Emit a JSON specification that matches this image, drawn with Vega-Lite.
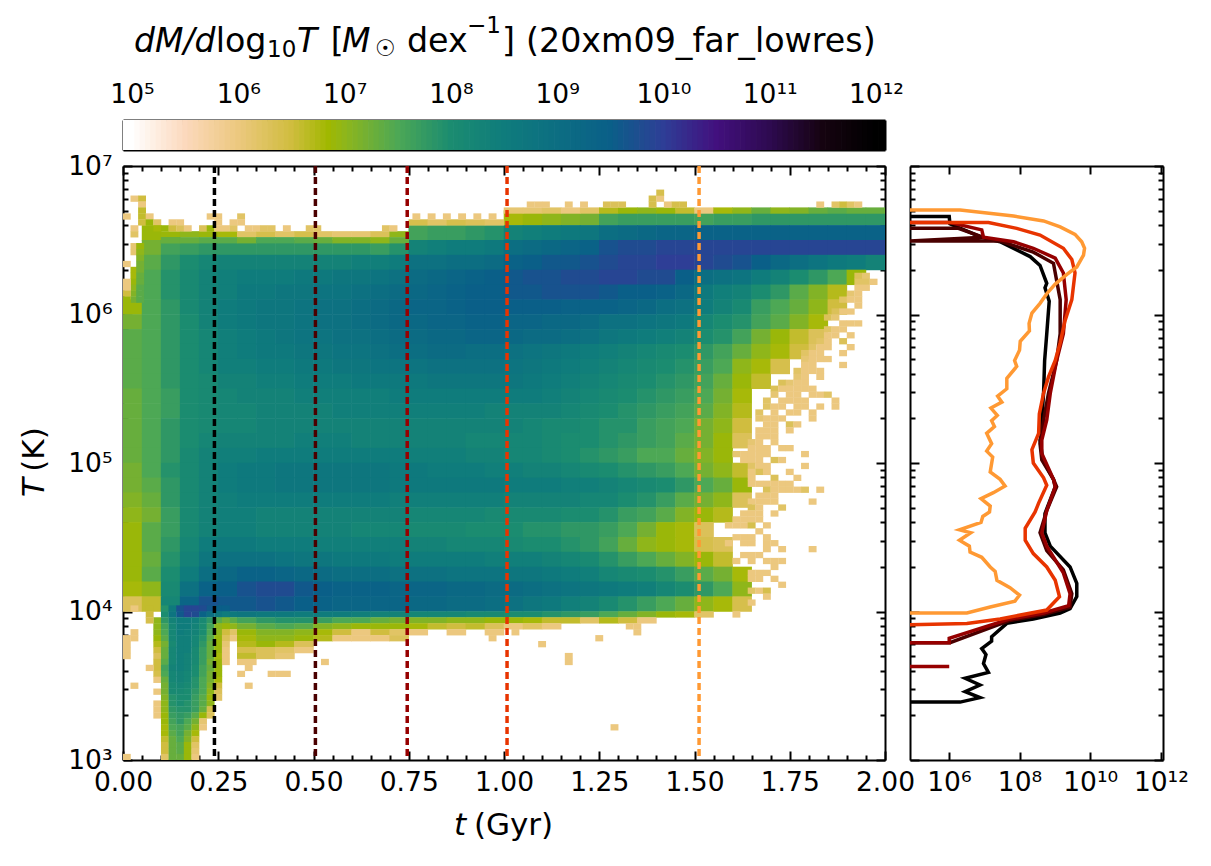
{
"$schema":"https://vega.github.io/schema/vega-lite/v6.json",
"background":"white",
"padding":{"left":19,"top":15,"right":0,"bottom":0},
"bounds":"flush",
"spacing":16,
"config":{"view":{"stroke":null},"font":"DejaVu Sans","axis":{"grid":false,"domainColor":"black","domainWidth":2,"tickColor":"black","tickWidth":2,"labelColor":"black","labelFontSize":26.5,"labelFont":"DejaVu Sans","labelFlush":false,"labelOverlap":false,"zindex":1,"title":null}},
"datasets":{
"frame":[{"t":0,"T":3,"M":5,"y":0}],
"bar":[{"M":4.9},{"M":4.95},{"M":5},{"M":5.05},{"M":5.1},{"M":5.15},{"M":5.2},{"M":5.25},{"M":5.3},{"M":5.35},{"M":5.4},{"M":5.45},{"M":5.5},{"M":5.55},{"M":5.6},{"M":5.65},{"M":5.7},{"M":5.75},{"M":5.8},{"M":5.85},{"M":5.9},{"M":5.95},{"M":6},{"M":6.05},{"M":6.1},{"M":6.15},{"M":6.2},{"M":6.25},{"M":6.3},{"M":6.35},{"M":6.4},{"M":6.45},{"M":6.5},{"M":6.55},{"M":6.6},{"M":6.65},{"M":6.7},{"M":6.75},{"M":6.8},{"M":6.85},{"M":6.9},{"M":6.95},{"M":7},{"M":7.05},{"M":7.1},{"M":7.15},{"M":7.2},{"M":7.25},{"M":7.3},{"M":7.35},{"M":7.4},{"M":7.45},{"M":7.5},{"M":7.55},{"M":7.6},{"M":7.65},{"M":7.7},{"M":7.75},{"M":7.8},{"M":7.85},{"M":7.9},{"M":7.95},{"M":8},{"M":8.05},{"M":8.1},{"M":8.15},{"M":8.2},{"M":8.25},{"M":8.3},{"M":8.35},{"M":8.4},{"M":8.45},{"M":8.5},{"M":8.55},{"M":8.6},{"M":8.65},{"M":8.7},{"M":8.75},{"M":8.8},{"M":8.85},{"M":8.9},{"M":8.95},{"M":9},{"M":9.05},{"M":9.1},{"M":9.15},{"M":9.2},{"M":9.25},{"M":9.3},{"M":9.35},{"M":9.4},{"M":9.45},{"M":9.5},{"M":9.55},{"M":9.6},{"M":9.65},{"M":9.7},{"M":9.75},{"M":9.8},{"M":9.85},{"M":9.9},{"M":9.95},{"M":10},{"M":10.05},{"M":10.1},{"M":10.15},{"M":10.2},{"M":10.25},{"M":10.3},{"M":10.35},{"M":10.4},{"M":10.45},{"M":10.5},{"M":10.55},{"M":10.6},{"M":10.65},{"M":10.7},{"M":10.75},{"M":10.8},{"M":10.85},{"M":10.9},{"M":10.95},{"M":11},{"M":11.05},{"M":11.1},{"M":11.15},{"M":11.2},{"M":11.25},{"M":11.3},{"M":11.35},{"M":11.4},{"M":11.45},{"M":11.5},{"M":11.55},{"M":11.6},{"M":11.65},{"M":11.7},{"M":11.75},{"M":11.8},{"M":11.85},{"M":11.9},{"M":11.95},{"M":12},{"M":12.05},{"M":12.1}],
"coarse":[
{"t":1.025,"T":6.65,"M":6.8},{"t":1.075,"T":6.65,"M":6.9},{"t":1.125,"T":6.65,"M":7},{"t":1.175,"T":6.65,"M":7.1},{"t":1.225,"T":6.65,"M":7.2},{"t":1.275,"T":6.65,"M":7.6},{"t":1.325,"T":6.65,"M":7.7},{"t":1.375,"T":6.65,"M":7.7},{"t":1.425,"T":6.65,"M":7.7},{"t":1.475,"T":6.65,"M":7.7},{"t":1.525,"T":6.65,"M":7.6},{"t":1.575,"T":6.65,"M":7.7},{"t":1.625,"T":6.65,"M":7.7},{"t":1.675,"T":6.65,"M":7.8},{"t":1.725,"T":6.65,"M":7.8},{"t":1.775,"T":6.65,"M":7.8},{"t":1.825,"T":6.65,"M":7.8},{"t":1.875,"T":6.65,"M":7.8},{"t":1.925,"T":6.65,"M":7.8},{"t":1.975,"T":6.65,"M":7.8},
{"t":0.075,"T":6.55,"M":6.9},{"t":0.775,"T":6.55,"M":7.6},{"t":0.825,"T":6.55,"M":7.7},{"t":0.875,"T":6.55,"M":7.7},{"t":0.925,"T":6.55,"M":7.8},{"t":0.975,"T":6.55,"M":7.9},{"t":1.025,"T":6.55,"M":8.3},{"t":1.075,"T":6.55,"M":8.4},{"t":1.125,"T":6.55,"M":8.5},{"t":1.175,"T":6.55,"M":8.6},{"t":1.225,"T":6.55,"M":8.7},{"t":1.275,"T":6.55,"M":9},{"t":1.325,"T":6.55,"M":9.1},{"t":1.375,"T":6.55,"M":9.2},{"t":1.425,"T":6.55,"M":9.3},{"t":1.475,"T":6.55,"M":9.3},{"t":1.525,"T":6.55,"M":9.4},{"t":1.575,"T":6.55,"M":9.4},{"t":1.625,"T":6.55,"M":9.4},{"t":1.675,"T":6.55,"M":9.4},{"t":1.725,"T":6.55,"M":9.4},{"t":1.775,"T":6.55,"M":9.4},{"t":1.825,"T":6.55,"M":9.4},{"t":1.875,"T":6.55,"M":9.4},{"t":1.925,"T":6.55,"M":9.4},{"t":1.975,"T":6.55,"M":9.4},
{"t":0.075,"T":6.45,"M":7.2},{"t":0.125,"T":6.45,"M":7.6},{"t":0.175,"T":6.45,"M":7.7},{"t":0.225,"T":6.45,"M":7.8},{"t":0.275,"T":6.45,"M":7.8},{"t":0.325,"T":6.45,"M":7.8},{"t":0.375,"T":6.45,"M":7.8},{"t":0.425,"T":6.45,"M":7.8},{"t":0.475,"T":6.45,"M":7.8},{"t":0.525,"T":6.45,"M":7.8},{"t":0.575,"T":6.45,"M":7.8},{"t":0.625,"T":6.45,"M":7.8},{"t":0.675,"T":6.45,"M":7.7},{"t":0.725,"T":6.45,"M":7.9},{"t":0.775,"T":6.45,"M":8.3},{"t":0.825,"T":6.45,"M":8.4},{"t":0.875,"T":6.45,"M":8.5},{"t":0.925,"T":6.45,"M":8.5},{"t":0.975,"T":6.45,"M":8.6},{"t":1.025,"T":6.45,"M":9},{"t":1.075,"T":6.45,"M":9.1},{"t":1.125,"T":6.45,"M":9.2},{"t":1.175,"T":6.45,"M":9.3},{"t":1.225,"T":6.45,"M":9.4},{"t":1.275,"T":6.45,"M":9.7},{"t":1.325,"T":6.45,"M":9.8},{"t":1.375,"T":6.45,"M":9.8},{"t":1.425,"T":6.45,"M":9.9},{"t":1.475,"T":6.45,"M":9.9},{"t":1.525,"T":6.45,"M":9.9},{"t":1.575,"T":6.45,"M":9.9},{"t":1.625,"T":6.45,"M":9.9},{"t":1.675,"T":6.45,"M":9.9},{"t":1.725,"T":6.45,"M":9.9},{"t":1.775,"T":6.45,"M":9.9},{"t":1.825,"T":6.45,"M":9.9},{"t":1.875,"T":6.45,"M":9.9},{"t":1.925,"T":6.45,"M":9.9},{"t":1.975,"T":6.45,"M":9.9},
{"t":0.075,"T":6.35,"M":7.4},{"t":0.125,"T":6.35,"M":7.8},{"t":0.175,"T":6.35,"M":8},{"t":0.225,"T":6.35,"M":8.2},{"t":0.275,"T":6.35,"M":8.3},{"t":0.325,"T":6.35,"M":8.3},{"t":0.375,"T":6.35,"M":8.3},{"t":0.425,"T":6.35,"M":8.3},{"t":0.475,"T":6.35,"M":8.3},{"t":0.525,"T":6.35,"M":8.3},{"t":0.575,"T":6.35,"M":8.3},{"t":0.625,"T":6.35,"M":8.4},{"t":0.675,"T":6.35,"M":8.4},{"t":0.725,"T":6.35,"M":8.5},{"t":0.775,"T":6.35,"M":8.9},{"t":0.825,"T":6.35,"M":8.9},{"t":0.875,"T":6.35,"M":9},{"t":0.925,"T":6.35,"M":9},{"t":0.975,"T":6.35,"M":9.1},{"t":1.025,"T":6.35,"M":9.4},{"t":1.075,"T":6.35,"M":9.5},{"t":1.125,"T":6.35,"M":9.6},{"t":1.175,"T":6.35,"M":9.6},{"t":1.225,"T":6.35,"M":9.7},{"t":1.275,"T":6.35,"M":9.8},{"t":1.325,"T":6.35,"M":9.9},{"t":1.375,"T":6.35,"M":9.9},{"t":1.425,"T":6.35,"M":10},{"t":1.475,"T":6.35,"M":10},{"t":1.525,"T":6.35,"M":9.9},{"t":1.575,"T":6.35,"M":9.8},{"t":1.625,"T":6.35,"M":9.7},{"t":1.675,"T":6.35,"M":9.5},{"t":1.725,"T":6.35,"M":9.2},{"t":1.775,"T":6.35,"M":9},{"t":1.825,"T":6.35,"M":8.8},{"t":1.875,"T":6.35,"M":8.6},{"t":1.925,"T":6.35,"M":8.5},{"t":1.975,"T":6.35,"M":8.3},
{"t":0.075,"T":6.25,"M":7.5},{"t":0.125,"T":6.25,"M":7.9},{"t":0.175,"T":6.25,"M":8.1},{"t":0.225,"T":6.25,"M":8.3},{"t":0.275,"T":6.25,"M":8.4},{"t":0.325,"T":6.25,"M":8.5},{"t":0.375,"T":6.25,"M":8.5},{"t":0.425,"T":6.25,"M":8.5},{"t":0.475,"T":6.25,"M":8.6},{"t":0.525,"T":6.25,"M":8.6},{"t":0.575,"T":6.25,"M":8.7},{"t":0.625,"T":6.25,"M":8.7},{"t":0.675,"T":6.25,"M":8.8},{"t":0.725,"T":6.25,"M":8.9},{"t":0.775,"T":6.25,"M":9.1},{"t":0.825,"T":6.25,"M":9.2},{"t":0.875,"T":6.25,"M":9.3},{"t":0.925,"T":6.25,"M":9.4},{"t":0.975,"T":6.25,"M":9.5},{"t":1.025,"T":6.25,"M":9.6},{"t":1.075,"T":6.25,"M":9.7},{"t":1.125,"T":6.25,"M":9.7},{"t":1.175,"T":6.25,"M":9.8},{"t":1.225,"T":6.25,"M":9.8},{"t":1.275,"T":6.25,"M":9.9},{"t":1.325,"T":6.25,"M":9.9},{"t":1.375,"T":6.25,"M":9.8},{"t":1.425,"T":6.25,"M":9.8},{"t":1.475,"T":6.25,"M":9.5},{"t":1.525,"T":6.25,"M":9},{"t":1.575,"T":6.25,"M":8.9},{"t":1.625,"T":6.25,"M":8.8},{"t":1.675,"T":6.25,"M":8.5},{"t":1.725,"T":6.25,"M":8.3},{"t":1.775,"T":6.25,"M":8},{"t":1.825,"T":6.25,"M":7.8},{"t":1.875,"T":6.25,"M":7.5},{"t":1.925,"T":6.25,"M":6.9},
{"t":0.075,"T":6.15,"M":7.5},{"t":0.125,"T":6.15,"M":7.9},{"t":0.175,"T":6.15,"M":8.1},{"t":0.225,"T":6.15,"M":8.3},{"t":0.275,"T":6.15,"M":8.4},{"t":0.325,"T":6.15,"M":8.6},{"t":0.375,"T":6.15,"M":8.6},{"t":0.425,"T":6.15,"M":8.7},{"t":0.475,"T":6.15,"M":8.7},{"t":0.525,"T":6.15,"M":8.8},{"t":0.575,"T":6.15,"M":8.8},{"t":0.625,"T":6.15,"M":8.9},{"t":0.675,"T":6.15,"M":9},{"t":0.725,"T":6.15,"M":9.1},{"t":0.775,"T":6.15,"M":9.2},{"t":0.825,"T":6.15,"M":9.3},{"t":0.875,"T":6.15,"M":9.4},{"t":0.925,"T":6.15,"M":9.5},{"t":0.975,"T":6.15,"M":9.5},{"t":1.025,"T":6.15,"M":9.6},{"t":1.075,"T":6.15,"M":9.6},{"t":1.125,"T":6.15,"M":9.7},{"t":1.175,"T":6.15,"M":9.7},{"t":1.225,"T":6.15,"M":9.7},{"t":1.275,"T":6.15,"M":9.6},{"t":1.325,"T":6.15,"M":9.5},{"t":1.375,"T":6.15,"M":9.5},{"t":1.425,"T":6.15,"M":9.4},{"t":1.475,"T":6.15,"M":9.2},{"t":1.525,"T":6.15,"M":8.6},{"t":1.575,"T":6.15,"M":8.4},{"t":1.625,"T":6.15,"M":8.3},{"t":1.675,"T":6.15,"M":8},{"t":1.725,"T":6.15,"M":7.8},{"t":1.775,"T":6.15,"M":7.4},{"t":1.825,"T":6.15,"M":7.1},{"t":1.875,"T":6.15,"M":6.7},
{"t":0.025,"T":6.05,"M":6.9},{"t":0.075,"T":6.05,"M":7.5},{"t":0.125,"T":6.05,"M":7.8},{"t":0.175,"T":6.05,"M":8.1},{"t":0.225,"T":6.05,"M":8.3},{"t":0.275,"T":6.05,"M":8.5},{"t":0.325,"T":6.05,"M":8.6},{"t":0.375,"T":6.05,"M":8.7},{"t":0.425,"T":6.05,"M":8.7},{"t":0.475,"T":6.05,"M":8.8},{"t":0.525,"T":6.05,"M":8.9},{"t":0.575,"T":6.05,"M":8.9},{"t":0.625,"T":6.05,"M":9},{"t":0.675,"T":6.05,"M":9.1},{"t":0.725,"T":6.05,"M":9.2},{"t":0.775,"T":6.05,"M":9.3},{"t":0.825,"T":6.05,"M":9.3},{"t":0.875,"T":6.05,"M":9.4},{"t":0.925,"T":6.05,"M":9.5},{"t":0.975,"T":6.05,"M":9.5},{"t":1.025,"T":6.05,"M":9.5},{"t":1.075,"T":6.05,"M":9.5},{"t":1.125,"T":6.05,"M":9.5},{"t":1.175,"T":6.05,"M":9.4},{"t":1.225,"T":6.05,"M":9.4},{"t":1.275,"T":6.05,"M":9.4},{"t":1.325,"T":6.05,"M":9.3},{"t":1.375,"T":6.05,"M":9.2},{"t":1.425,"T":6.05,"M":9},{"t":1.475,"T":6.05,"M":8.9},{"t":1.525,"T":6.05,"M":8.5},{"t":1.575,"T":6.05,"M":8.3},{"t":1.625,"T":6.05,"M":8.1},{"t":1.675,"T":6.05,"M":7.7},{"t":1.725,"T":6.05,"M":7.5},{"t":1.775,"T":6.05,"M":7.3},{"t":1.825,"T":6.05,"M":7},{"t":1.875,"T":6.05,"M":6.5},
{"t":0.025,"T":5.95,"M":7.2},{"t":0.075,"T":5.95,"M":7.5},{"t":0.125,"T":5.95,"M":7.8},{"t":0.175,"T":5.95,"M":8},{"t":0.225,"T":5.95,"M":8.3},{"t":0.275,"T":5.95,"M":8.5},{"t":0.325,"T":5.95,"M":8.6},{"t":0.375,"T":5.95,"M":8.7},{"t":0.425,"T":5.95,"M":8.7},{"t":0.475,"T":5.95,"M":8.8},{"t":0.525,"T":5.95,"M":8.9},{"t":0.575,"T":5.95,"M":8.9},{"t":0.625,"T":5.95,"M":9},{"t":0.675,"T":5.95,"M":9.1},{"t":0.725,"T":5.95,"M":9.2},{"t":0.775,"T":5.95,"M":9.2},{"t":0.825,"T":5.95,"M":9.3},{"t":0.875,"T":5.95,"M":9.3},{"t":0.925,"T":5.95,"M":9.4},{"t":0.975,"T":5.95,"M":9.4},{"t":1.025,"T":5.95,"M":9.3},{"t":1.075,"T":5.95,"M":9.3},{"t":1.125,"T":5.95,"M":9.2},{"t":1.175,"T":5.95,"M":9.2},{"t":1.225,"T":5.95,"M":9.1},{"t":1.275,"T":5.95,"M":8.9},{"t":1.325,"T":5.95,"M":8.9},{"t":1.375,"T":5.95,"M":8.8},{"t":1.425,"T":5.95,"M":8.7},{"t":1.475,"T":5.95,"M":8.6},{"t":1.525,"T":5.95,"M":8.2},{"t":1.575,"T":5.95,"M":8},{"t":1.625,"T":5.95,"M":7.9},{"t":1.675,"T":5.95,"M":7.6},{"t":1.725,"T":5.95,"M":7.4},{"t":1.775,"T":5.95,"M":7.1},{"t":1.825,"T":5.95,"M":6.8},
{"t":0.025,"T":5.85,"M":7.4},{"t":0.075,"T":5.85,"M":7.5},{"t":0.125,"T":5.85,"M":7.8},{"t":0.175,"T":5.85,"M":8},{"t":0.225,"T":5.85,"M":8.2},{"t":0.275,"T":5.85,"M":8.4},{"t":0.325,"T":5.85,"M":8.5},{"t":0.375,"T":5.85,"M":8.6},{"t":0.425,"T":5.85,"M":8.7},{"t":0.475,"T":5.85,"M":8.8},{"t":0.525,"T":5.85,"M":8.8},{"t":0.575,"T":5.85,"M":8.9},{"t":0.625,"T":5.85,"M":8.9},{"t":0.675,"T":5.85,"M":9},{"t":0.725,"T":5.85,"M":9.1},{"t":0.775,"T":5.85,"M":9.1},{"t":0.825,"T":5.85,"M":9.2},{"t":0.875,"T":5.85,"M":9.2},{"t":0.925,"T":5.85,"M":9.3},{"t":0.975,"T":5.85,"M":9.3},{"t":1.025,"T":5.85,"M":9.2},{"t":1.075,"T":5.85,"M":9.1},{"t":1.125,"T":5.85,"M":9.1},{"t":1.175,"T":5.85,"M":9},{"t":1.225,"T":5.85,"M":8.9},{"t":1.275,"T":5.85,"M":8.7},{"t":1.325,"T":5.85,"M":8.6},{"t":1.375,"T":5.85,"M":8.5},{"t":1.425,"T":5.85,"M":8.4},{"t":1.475,"T":5.85,"M":8.3},{"t":1.525,"T":5.85,"M":8},{"t":1.575,"T":5.85,"M":7.9},{"t":1.625,"T":5.85,"M":7.6},{"t":1.675,"T":5.85,"M":7.2},{"t":1.725,"T":5.85,"M":6.9},{"t":1.775,"T":5.85,"M":6.6},{"t":1.825,"T":5.85,"M":6.3},
{"t":0.025,"T":5.75,"M":7.4},{"t":0.075,"T":5.75,"M":7.5},{"t":0.125,"T":5.75,"M":7.8},{"t":0.175,"T":5.75,"M":8},{"t":0.225,"T":5.75,"M":8.2},{"t":0.275,"T":5.75,"M":8.4},{"t":0.325,"T":5.75,"M":8.5},{"t":0.375,"T":5.75,"M":8.6},{"t":0.425,"T":5.75,"M":8.6},{"t":0.475,"T":5.75,"M":8.7},{"t":0.525,"T":5.75,"M":8.7},{"t":0.575,"T":5.75,"M":8.8},{"t":0.625,"T":5.75,"M":8.8},{"t":0.675,"T":5.75,"M":8.9},{"t":0.725,"T":5.75,"M":9},{"t":0.775,"T":5.75,"M":9},{"t":0.825,"T":5.75,"M":9.1},{"t":0.875,"T":5.75,"M":9.1},{"t":0.925,"T":5.75,"M":9},{"t":0.975,"T":5.75,"M":9},{"t":1.025,"T":5.75,"M":8.9},{"t":1.075,"T":5.75,"M":8.8},{"t":1.125,"T":5.75,"M":8.7},{"t":1.175,"T":5.75,"M":8.6},{"t":1.225,"T":5.75,"M":8.5},{"t":1.275,"T":5.75,"M":8.4},{"t":1.325,"T":5.75,"M":8.3},{"t":1.375,"T":5.75,"M":8.2},{"t":1.425,"T":5.75,"M":8.1},{"t":1.475,"T":5.75,"M":8},{"t":1.525,"T":5.75,"M":7.8},{"t":1.575,"T":5.75,"M":7.6},{"t":1.625,"T":5.75,"M":7.3},{"t":1.675,"T":5.75,"M":7},{"t":1.725,"T":5.75,"M":6.8},{"t":1.775,"T":5.75,"M":6.5},
{"t":0.025,"T":5.65,"M":7.4},{"t":0.075,"T":5.65,"M":7.5},{"t":0.125,"T":5.65,"M":7.8},{"t":0.175,"T":5.65,"M":8},{"t":0.225,"T":5.65,"M":8.2},{"t":0.275,"T":5.65,"M":8.4},{"t":0.325,"T":5.65,"M":8.4},{"t":0.375,"T":5.65,"M":8.5},{"t":0.425,"T":5.65,"M":8.5},{"t":0.475,"T":5.65,"M":8.6},{"t":0.525,"T":5.65,"M":8.6},{"t":0.575,"T":5.65,"M":8.7},{"t":0.625,"T":5.65,"M":8.7},{"t":0.675,"T":5.65,"M":8.8},{"t":0.725,"T":5.65,"M":8.8},{"t":0.775,"T":5.65,"M":8.8},{"t":0.825,"T":5.65,"M":8.9},{"t":0.875,"T":5.65,"M":8.9},{"t":0.925,"T":5.65,"M":8.9},{"t":0.975,"T":5.65,"M":8.9},{"t":1.025,"T":5.65,"M":8.8},{"t":1.075,"T":5.65,"M":8.7},{"t":1.125,"T":5.65,"M":8.6},{"t":1.175,"T":5.65,"M":8.5},{"t":1.225,"T":5.65,"M":8.4},{"t":1.275,"T":5.65,"M":8.3},{"t":1.325,"T":5.65,"M":8.2},{"t":1.375,"T":5.65,"M":8.1},{"t":1.425,"T":5.65,"M":8},{"t":1.475,"T":5.65,"M":7.9},{"t":1.525,"T":5.65,"M":7.7},{"t":1.575,"T":5.65,"M":7.5},{"t":1.625,"T":5.65,"M":7},{"t":1.675,"T":5.65,"M":6.8},{"t":1.725,"T":5.65,"M":6.4},
{"t":0.025,"T":5.55,"M":7.4},{"t":0.075,"T":5.55,"M":7.5},{"t":0.125,"T":5.55,"M":7.8},{"t":0.175,"T":5.55,"M":8},{"t":0.225,"T":5.55,"M":8.1},{"t":0.275,"T":5.55,"M":8.3},{"t":0.325,"T":5.55,"M":8.3},{"t":0.375,"T":5.55,"M":8.4},{"t":0.425,"T":5.55,"M":8.4},{"t":0.475,"T":5.55,"M":8.5},{"t":0.525,"T":5.55,"M":8.5},{"t":0.575,"T":5.55,"M":8.5},{"t":0.625,"T":5.55,"M":8.6},{"t":0.675,"T":5.55,"M":8.6},{"t":0.725,"T":5.55,"M":8.6},{"t":0.775,"T":5.55,"M":8.6},{"t":0.825,"T":5.55,"M":8.7},{"t":0.875,"T":5.55,"M":8.7},{"t":0.925,"T":5.55,"M":8.7},{"t":0.975,"T":5.55,"M":8.7},{"t":1.025,"T":5.55,"M":8.7},{"t":1.075,"T":5.55,"M":8.6},{"t":1.125,"T":5.55,"M":8.5},{"t":1.175,"T":5.55,"M":8.4},{"t":1.225,"T":5.55,"M":8.3},{"t":1.275,"T":5.55,"M":8.2},{"t":1.325,"T":5.55,"M":8.1},{"t":1.375,"T":5.55,"M":8},{"t":1.425,"T":5.55,"M":7.9},{"t":1.475,"T":5.55,"M":7.8},{"t":1.525,"T":5.55,"M":7.6},{"t":1.575,"T":5.55,"M":7.3},{"t":1.625,"T":5.55,"M":6.9},{"t":1.675,"T":5.55,"M":6.6},
{"t":0.025,"T":5.45,"M":7.3},{"t":0.075,"T":5.45,"M":7.5},{"t":0.125,"T":5.45,"M":7.7},{"t":0.175,"T":5.45,"M":8},{"t":0.225,"T":5.45,"M":8.1},{"t":0.275,"T":5.45,"M":8.2},{"t":0.325,"T":5.45,"M":8.3},{"t":0.375,"T":5.45,"M":8.3},{"t":0.425,"T":5.45,"M":8.3},{"t":0.475,"T":5.45,"M":8.4},{"t":0.525,"T":5.45,"M":8.4},{"t":0.575,"T":5.45,"M":8.4},{"t":0.625,"T":5.45,"M":8.4},{"t":0.675,"T":5.45,"M":8.4},{"t":0.725,"T":5.45,"M":8.5},{"t":0.775,"T":5.45,"M":8.5},{"t":0.825,"T":5.45,"M":8.5},{"t":0.875,"T":5.45,"M":8.5},{"t":0.925,"T":5.45,"M":8.5},{"t":0.975,"T":5.45,"M":8.5},{"t":1.025,"T":5.45,"M":8.5},{"t":1.075,"T":5.45,"M":8.5},{"t":1.125,"T":5.45,"M":8.4},{"t":1.175,"T":5.45,"M":8.3},{"t":1.225,"T":5.45,"M":8.2},{"t":1.275,"T":5.45,"M":8.1},{"t":1.325,"T":5.45,"M":8},{"t":1.375,"T":5.45,"M":7.9},{"t":1.425,"T":5.45,"M":7.8},{"t":1.475,"T":5.45,"M":7.7},{"t":1.525,"T":5.45,"M":7.5},{"t":1.575,"T":5.45,"M":7.2},{"t":1.625,"T":5.45,"M":6.8},
{"t":0.025,"T":5.35,"M":7.3},{"t":0.075,"T":5.35,"M":7.5},{"t":0.125,"T":5.35,"M":7.7},{"t":0.175,"T":5.35,"M":8},{"t":0.225,"T":5.35,"M":8.1},{"t":0.275,"T":5.35,"M":8.2},{"t":0.325,"T":5.35,"M":8.2},{"t":0.375,"T":5.35,"M":8.3},{"t":0.425,"T":5.35,"M":8.3},{"t":0.475,"T":5.35,"M":8.3},{"t":0.525,"T":5.35,"M":8.3},{"t":0.575,"T":5.35,"M":8.4},{"t":0.625,"T":5.35,"M":8.4},{"t":0.675,"T":5.35,"M":8.4},{"t":0.725,"T":5.35,"M":8.4},{"t":0.775,"T":5.35,"M":8.4},{"t":0.825,"T":5.35,"M":8.4},{"t":0.875,"T":5.35,"M":8.4},{"t":0.925,"T":5.35,"M":8.4},{"t":0.975,"T":5.35,"M":8.3},{"t":1.025,"T":5.35,"M":8.3},{"t":1.075,"T":5.35,"M":8.3},{"t":1.125,"T":5.35,"M":8.3},{"t":1.175,"T":5.35,"M":8.2},{"t":1.225,"T":5.35,"M":8.1},{"t":1.275,"T":5.35,"M":8},{"t":1.325,"T":5.35,"M":7.9},{"t":1.375,"T":5.35,"M":7.8},{"t":1.425,"T":5.35,"M":7.7},{"t":1.475,"T":5.35,"M":7.6},{"t":1.525,"T":5.35,"M":7.4},{"t":1.575,"T":5.35,"M":7.1},{"t":1.625,"T":5.35,"M":6.7},
{"t":0.025,"T":5.25,"M":7.3},{"t":0.075,"T":5.25,"M":7.5},{"t":0.125,"T":5.25,"M":7.8},{"t":0.175,"T":5.25,"M":8},{"t":0.225,"T":5.25,"M":8.1},{"t":0.275,"T":5.25,"M":8.2},{"t":0.325,"T":5.25,"M":8.2},{"t":0.375,"T":5.25,"M":8.3},{"t":0.425,"T":5.25,"M":8.3},{"t":0.475,"T":5.25,"M":8.3},{"t":0.525,"T":5.25,"M":8.3},{"t":0.575,"T":5.25,"M":8.3},{"t":0.625,"T":5.25,"M":8.3},{"t":0.675,"T":5.25,"M":8.3},{"t":0.725,"T":5.25,"M":8.3},{"t":0.775,"T":5.25,"M":8.3},{"t":0.825,"T":5.25,"M":8.3},{"t":0.875,"T":5.25,"M":8.3},{"t":0.925,"T":5.25,"M":8.3},{"t":0.975,"T":5.25,"M":8.3},{"t":1.025,"T":5.25,"M":8.3},{"t":1.075,"T":5.25,"M":8.2},{"t":1.125,"T":5.25,"M":8.1},{"t":1.175,"T":5.25,"M":8.1},{"t":1.225,"T":5.25,"M":8},{"t":1.275,"T":5.25,"M":7.9},{"t":1.325,"T":5.25,"M":7.9},{"t":1.375,"T":5.25,"M":7.7},{"t":1.425,"T":5.25,"M":7.6},{"t":1.475,"T":5.25,"M":7.5},{"t":1.525,"T":5.25,"M":7.2},{"t":1.575,"T":5.25,"M":7},{"t":1.625,"T":5.25,"M":6.5},
{"t":0.025,"T":5.15,"M":7.3},{"t":0.075,"T":5.15,"M":7.5},{"t":0.125,"T":5.15,"M":7.8},{"t":0.175,"T":5.15,"M":8},{"t":0.225,"T":5.15,"M":8.2},{"t":0.275,"T":5.15,"M":8.3},{"t":0.325,"T":5.15,"M":8.3},{"t":0.375,"T":5.15,"M":8.3},{"t":0.425,"T":5.15,"M":8.3},{"t":0.475,"T":5.15,"M":8.4},{"t":0.525,"T":5.15,"M":8.4},{"t":0.575,"T":5.15,"M":8.4},{"t":0.625,"T":5.15,"M":8.3},{"t":0.675,"T":5.15,"M":8.3},{"t":0.725,"T":5.15,"M":8.3},{"t":0.775,"T":5.15,"M":8.3},{"t":0.825,"T":5.15,"M":8.3},{"t":0.875,"T":5.15,"M":8.3},{"t":0.925,"T":5.15,"M":8.2},{"t":0.975,"T":5.15,"M":8.2},{"t":1.025,"T":5.15,"M":8.2},{"t":1.075,"T":5.15,"M":8.2},{"t":1.125,"T":5.15,"M":8.1},{"t":1.175,"T":5.15,"M":8},{"t":1.225,"T":5.15,"M":8},{"t":1.275,"T":5.15,"M":7.9},{"t":1.325,"T":5.15,"M":7.8},{"t":1.375,"T":5.15,"M":7.7},{"t":1.425,"T":5.15,"M":7.6},{"t":1.475,"T":5.15,"M":7.4},{"t":1.525,"T":5.15,"M":7.2},{"t":1.575,"T":5.15,"M":6.9},{"t":1.625,"T":5.15,"M":6.3},
{"t":0.025,"T":5.05,"M":7.3},{"t":0.075,"T":5.05,"M":7.5},{"t":0.125,"T":5.05,"M":7.8},{"t":0.175,"T":5.05,"M":8.1},{"t":0.225,"T":5.05,"M":8.3},{"t":0.275,"T":5.05,"M":8.4},{"t":0.325,"T":5.05,"M":8.4},{"t":0.375,"T":5.05,"M":8.5},{"t":0.425,"T":5.05,"M":8.5},{"t":0.475,"T":5.05,"M":8.5},{"t":0.525,"T":5.05,"M":8.5},{"t":0.575,"T":5.05,"M":8.5},{"t":0.625,"T":5.05,"M":8.5},{"t":0.675,"T":5.05,"M":8.5},{"t":0.725,"T":5.05,"M":8.5},{"t":0.775,"T":5.05,"M":8.4},{"t":0.825,"T":5.05,"M":8.4},{"t":0.875,"T":5.05,"M":8.4},{"t":0.925,"T":5.05,"M":8.3},{"t":0.975,"T":5.05,"M":8.3},{"t":1.025,"T":5.05,"M":8.2},{"t":1.075,"T":5.05,"M":8.2},{"t":1.125,"T":5.05,"M":8.1},{"t":1.175,"T":5.05,"M":8},{"t":1.225,"T":5.05,"M":7.9},{"t":1.275,"T":5.05,"M":7.8},{"t":1.325,"T":5.05,"M":7.7},{"t":1.375,"T":5.05,"M":7.5},{"t":1.425,"T":5.05,"M":7.5},{"t":1.475,"T":5.05,"M":7.3},{"t":1.525,"T":5.05,"M":7.1},{"t":1.575,"T":5.05,"M":6.9},
{"t":0.025,"T":4.95,"M":7.2},{"t":0.075,"T":4.95,"M":7.5},{"t":0.125,"T":4.95,"M":7.9},{"t":0.175,"T":4.95,"M":8.1},{"t":0.225,"T":4.95,"M":8.3},{"t":0.275,"T":4.95,"M":8.5},{"t":0.325,"T":4.95,"M":8.6},{"t":0.375,"T":4.95,"M":8.6},{"t":0.425,"T":4.95,"M":8.7},{"t":0.475,"T":4.95,"M":8.7},{"t":0.525,"T":4.95,"M":8.7},{"t":0.575,"T":4.95,"M":8.7},{"t":0.625,"T":4.95,"M":8.7},{"t":0.675,"T":4.95,"M":8.7},{"t":0.725,"T":4.95,"M":8.6},{"t":0.775,"T":4.95,"M":8.6},{"t":0.825,"T":4.95,"M":8.5},{"t":0.875,"T":4.95,"M":8.5},{"t":0.925,"T":4.95,"M":8.5},{"t":0.975,"T":4.95,"M":8.4},{"t":1.025,"T":4.95,"M":8.4},{"t":1.075,"T":4.95,"M":8.3},{"t":1.125,"T":4.95,"M":8.3},{"t":1.175,"T":4.95,"M":8.2},{"t":1.225,"T":4.95,"M":8.1},{"t":1.275,"T":4.95,"M":8},{"t":1.325,"T":4.95,"M":7.9},{"t":1.375,"T":4.95,"M":7.8},{"t":1.425,"T":4.95,"M":7.7},{"t":1.475,"T":4.95,"M":7.5},{"t":1.525,"T":4.95,"M":7.2},{"t":1.575,"T":4.95,"M":7},{"t":1.625,"T":4.95,"M":6.6},
{"t":0.025,"T":4.85,"M":7.2},{"t":0.075,"T":4.85,"M":7.4},{"t":0.125,"T":4.85,"M":7.8},{"t":0.175,"T":4.85,"M":8.1},{"t":0.225,"T":4.85,"M":8.3},{"t":0.275,"T":4.85,"M":8.5},{"t":0.325,"T":4.85,"M":8.6},{"t":0.375,"T":4.85,"M":8.6},{"t":0.425,"T":4.85,"M":8.7},{"t":0.475,"T":4.85,"M":8.7},{"t":0.525,"T":4.85,"M":8.7},{"t":0.575,"T":4.85,"M":8.7},{"t":0.625,"T":4.85,"M":8.7},{"t":0.675,"T":4.85,"M":8.7},{"t":0.725,"T":4.85,"M":8.6},{"t":0.775,"T":4.85,"M":8.6},{"t":0.825,"T":4.85,"M":8.6},{"t":0.875,"T":4.85,"M":8.6},{"t":0.925,"T":4.85,"M":8.6},{"t":0.975,"T":4.85,"M":8.6},{"t":1.025,"T":4.85,"M":8.5},{"t":1.075,"T":4.85,"M":8.5},{"t":1.125,"T":4.85,"M":8.5},{"t":1.175,"T":4.85,"M":8.4},{"t":1.225,"T":4.85,"M":8.4},{"t":1.275,"T":4.85,"M":8.3},{"t":1.325,"T":4.85,"M":8.2},{"t":1.375,"T":4.85,"M":8.1},{"t":1.425,"T":4.85,"M":8},{"t":1.475,"T":4.85,"M":7.8},{"t":1.525,"T":4.85,"M":7.5},{"t":1.575,"T":4.85,"M":7.3},{"t":1.625,"T":4.85,"M":6.9},
{"t":0.025,"T":4.75,"M":7.1},{"t":0.075,"T":4.75,"M":7.3},{"t":0.125,"T":4.75,"M":7.8},{"t":0.175,"T":4.75,"M":8.1},{"t":0.225,"T":4.75,"M":8.3},{"t":0.275,"T":4.75,"M":8.4},{"t":0.325,"T":4.75,"M":8.5},{"t":0.375,"T":4.75,"M":8.5},{"t":0.425,"T":4.75,"M":8.5},{"t":0.475,"T":4.75,"M":8.5},{"t":0.525,"T":4.75,"M":8.5},{"t":0.575,"T":4.75,"M":8.5},{"t":0.625,"T":4.75,"M":8.5},{"t":0.675,"T":4.75,"M":8.5},{"t":0.725,"T":4.75,"M":8.4},{"t":0.775,"T":4.75,"M":8.4},{"t":0.825,"T":4.75,"M":8.4},{"t":0.875,"T":4.75,"M":8.4},{"t":0.925,"T":4.75,"M":8.4},{"t":0.975,"T":4.75,"M":8.4},{"t":1.025,"T":4.75,"M":8.3},{"t":1.075,"T":4.75,"M":8.3},{"t":1.125,"T":4.75,"M":8.3},{"t":1.175,"T":4.75,"M":8.3},{"t":1.225,"T":4.75,"M":8.2},{"t":1.275,"T":4.75,"M":8.2},{"t":1.325,"T":4.75,"M":8},{"t":1.375,"T":4.75,"M":7.9},{"t":1.425,"T":4.75,"M":7.7},{"t":1.475,"T":4.75,"M":7.4},{"t":1.525,"T":4.75,"M":7.2},{"t":1.575,"T":4.75,"M":7},{"t":1.625,"T":4.75,"M":6.3},
{"t":0.025,"T":4.65,"M":7},{"t":0.075,"T":4.65,"M":7.2},{"t":0.125,"T":4.65,"M":7.7},{"t":0.175,"T":4.65,"M":8.1},{"t":0.225,"T":4.65,"M":8.3},{"t":0.275,"T":4.65,"M":8.4},{"t":0.325,"T":4.65,"M":8.4},{"t":0.375,"T":4.65,"M":8.3},{"t":0.425,"T":4.65,"M":8.3},{"t":0.475,"T":4.65,"M":8.3},{"t":0.525,"T":4.65,"M":8.3},{"t":0.575,"T":4.65,"M":8.3},{"t":0.625,"T":4.65,"M":8.3},{"t":0.675,"T":4.65,"M":8.3},{"t":0.725,"T":4.65,"M":8.3},{"t":0.775,"T":4.65,"M":8.2},{"t":0.825,"T":4.65,"M":8.2},{"t":0.875,"T":4.65,"M":8.2},{"t":0.925,"T":4.65,"M":8.2},{"t":0.975,"T":4.65,"M":8.1},{"t":1.025,"T":4.65,"M":8.1},{"t":1.075,"T":4.65,"M":8.1},{"t":1.125,"T":4.65,"M":8.1},{"t":1.175,"T":4.65,"M":8},{"t":1.225,"T":4.65,"M":8},{"t":1.275,"T":4.65,"M":7.9},{"t":1.325,"T":4.65,"M":7.7},{"t":1.375,"T":4.65,"M":7.6},{"t":1.425,"T":4.65,"M":7.4},{"t":1.475,"T":4.65,"M":7.1},{"t":1.525,"T":4.65,"M":6.9},{"t":1.575,"T":4.65,"M":6.7},
{"t":0.025,"T":4.55,"M":6.9},{"t":0.075,"T":4.55,"M":7.4},{"t":0.125,"T":4.55,"M":7.7},{"t":0.175,"T":4.55,"M":8.1},{"t":0.225,"T":4.55,"M":8.3},{"t":0.275,"T":4.55,"M":8.4},{"t":0.325,"T":4.55,"M":8.4},{"t":0.375,"T":4.55,"M":8.3},{"t":0.425,"T":4.55,"M":8.3},{"t":0.475,"T":4.55,"M":8.3},{"t":0.525,"T":4.55,"M":8.3},{"t":0.575,"T":4.55,"M":8.3},{"t":0.625,"T":4.55,"M":8.2},{"t":0.675,"T":4.55,"M":8.2},{"t":0.725,"T":4.55,"M":8.2},{"t":0.775,"T":4.55,"M":8.1},{"t":0.825,"T":4.55,"M":8.1},{"t":0.875,"T":4.55,"M":8.1},{"t":0.925,"T":4.55,"M":8},{"t":0.975,"T":4.55,"M":8},{"t":1.025,"T":4.55,"M":8},{"t":1.075,"T":4.55,"M":7.9},{"t":1.125,"T":4.55,"M":7.9},{"t":1.175,"T":4.55,"M":7.8},{"t":1.225,"T":4.55,"M":7.8},{"t":1.275,"T":4.55,"M":7.7},{"t":1.325,"T":4.55,"M":7.5},{"t":1.375,"T":4.55,"M":7.2},{"t":1.425,"T":4.55,"M":6.9},{"t":1.475,"T":4.55,"M":6.8},{"t":1.525,"T":4.55,"M":6.3},
{"t":0.025,"T":4.45,"M":6.9},{"t":0.075,"T":4.45,"M":7.4},{"t":0.125,"T":4.45,"M":7.8},{"t":0.175,"T":4.45,"M":8.2},{"t":0.225,"T":4.45,"M":8.5},{"t":0.275,"T":4.45,"M":8.6},{"t":0.325,"T":4.45,"M":8.6},{"t":0.375,"T":4.45,"M":8.5},{"t":0.425,"T":4.45,"M":8.5},{"t":0.475,"T":4.45,"M":8.5},{"t":0.525,"T":4.45,"M":8.4},{"t":0.575,"T":4.45,"M":8.4},{"t":0.625,"T":4.45,"M":8.4},{"t":0.675,"T":4.45,"M":8.4},{"t":0.725,"T":4.45,"M":8.4},{"t":0.775,"T":4.45,"M":8.3},{"t":0.825,"T":4.45,"M":8.3},{"t":0.875,"T":4.45,"M":8.2},{"t":0.925,"T":4.45,"M":8.2},{"t":0.975,"T":4.45,"M":8.2},{"t":1.025,"T":4.45,"M":8.1},{"t":1.075,"T":4.45,"M":8},{"t":1.125,"T":4.45,"M":8},{"t":1.175,"T":4.45,"M":7.9},{"t":1.225,"T":4.45,"M":7.8},{"t":1.275,"T":4.45,"M":7.6},{"t":1.325,"T":4.45,"M":7.3},{"t":1.375,"T":4.45,"M":7},{"t":1.425,"T":4.45,"M":6.9},{"t":1.475,"T":4.45,"M":6.8},{"t":1.525,"T":4.45,"M":6.4},{"t":1.575,"T":4.45,"M":6.3},
{"t":0.025,"T":4.35,"M":6.9},{"t":0.075,"T":4.35,"M":7.3},{"t":0.125,"T":4.35,"M":7.9},{"t":0.175,"T":4.35,"M":8.3},{"t":0.225,"T":4.35,"M":8.7},{"t":0.275,"T":4.35,"M":8.9},{"t":0.325,"T":4.35,"M":8.9},{"t":0.375,"T":4.35,"M":8.9},{"t":0.425,"T":4.35,"M":8.8},{"t":0.475,"T":4.35,"M":8.7},{"t":0.525,"T":4.35,"M":8.7},{"t":0.575,"T":4.35,"M":8.6},{"t":0.625,"T":4.35,"M":8.6},{"t":0.675,"T":4.35,"M":8.6},{"t":0.725,"T":4.35,"M":8.5},{"t":0.775,"T":4.35,"M":8.5},{"t":0.825,"T":4.35,"M":8.5},{"t":0.875,"T":4.35,"M":8.5},{"t":0.925,"T":4.35,"M":8.5},{"t":0.975,"T":4.35,"M":8.4},{"t":1.025,"T":4.35,"M":8.4},{"t":1.075,"T":4.35,"M":8.4},{"t":1.125,"T":4.35,"M":8.3},{"t":1.175,"T":4.35,"M":8.2},{"t":1.225,"T":4.35,"M":8.1},{"t":1.275,"T":4.35,"M":7.9},{"t":1.325,"T":4.35,"M":7.7},{"t":1.375,"T":4.35,"M":7.5},{"t":1.425,"T":4.35,"M":7.3},{"t":1.475,"T":4.35,"M":7.1},{"t":1.525,"T":4.35,"M":6.9},{"t":1.575,"T":4.35,"M":6.6},
{"t":0.025,"T":4.25,"M":6.9},{"t":0.075,"T":4.25,"M":7.4},{"t":0.125,"T":4.25,"M":8},{"t":0.175,"T":4.25,"M":8.5},{"t":0.225,"T":4.25,"M":9},{"t":0.275,"T":4.25,"M":9.2},{"t":0.325,"T":4.25,"M":9.4},{"t":0.375,"T":4.25,"M":9.4},{"t":0.425,"T":4.25,"M":9.3},{"t":0.475,"T":4.25,"M":9.2},{"t":0.525,"T":4.25,"M":9.1},{"t":0.575,"T":4.25,"M":9},{"t":0.625,"T":4.25,"M":9},{"t":0.675,"T":4.25,"M":9},{"t":0.725,"T":4.25,"M":8.9},{"t":0.775,"T":4.25,"M":8.9},{"t":0.825,"T":4.25,"M":8.9},{"t":0.875,"T":4.25,"M":8.8},{"t":0.925,"T":4.25,"M":8.8},{"t":0.975,"T":4.25,"M":8.8},{"t":1.025,"T":4.25,"M":8.7},{"t":1.075,"T":4.25,"M":8.7},{"t":1.125,"T":4.25,"M":8.6},{"t":1.175,"T":4.25,"M":8.5},{"t":1.225,"T":4.25,"M":8.4},{"t":1.275,"T":4.25,"M":8.2},{"t":1.325,"T":4.25,"M":8.1},{"t":1.375,"T":4.25,"M":8},{"t":1.425,"T":4.25,"M":7.9},{"t":1.475,"T":4.25,"M":7.7},{"t":1.525,"T":4.25,"M":7.4},{"t":1.575,"T":4.25,"M":7.2},{"t":1.625,"T":4.25,"M":6.8},
{"t":0.025,"T":4.15,"M":6.8},{"t":0.075,"T":4.15,"M":7},{"t":0.125,"T":4.15,"M":8.1},{"t":0.175,"T":4.15,"M":8.9},{"t":0.225,"T":4.15,"M":9.4},{"t":0.275,"T":4.15,"M":9.5},{"t":0.325,"T":4.15,"M":9.7},{"t":0.375,"T":4.15,"M":9.8},{"t":0.425,"T":4.15,"M":9.8},{"t":0.475,"T":4.15,"M":9.6},{"t":0.525,"T":4.15,"M":9.5},{"t":0.575,"T":4.15,"M":9.4},{"t":0.625,"T":4.15,"M":9.4},{"t":0.675,"T":4.15,"M":9.4},{"t":0.725,"T":4.15,"M":9.3},{"t":0.775,"T":4.15,"M":9.3},{"t":0.825,"T":4.15,"M":9.3},{"t":0.875,"T":4.15,"M":9.2},{"t":0.925,"T":4.15,"M":9.2},{"t":0.975,"T":4.15,"M":9.1},{"t":1.025,"T":4.15,"M":9.1},{"t":1.075,"T":4.15,"M":9},{"t":1.125,"T":4.15,"M":8.9},{"t":1.175,"T":4.15,"M":8.8},{"t":1.225,"T":4.15,"M":8.7},{"t":1.275,"T":4.15,"M":8.6},{"t":1.325,"T":4.15,"M":8.5},{"t":1.375,"T":4.15,"M":8.4},{"t":1.425,"T":4.15,"M":8.2},{"t":1.475,"T":4.15,"M":8},{"t":1.525,"T":4.15,"M":7.8},{"t":1.575,"T":4.15,"M":7.5},{"t":1.625,"T":4.15,"M":7},
{"t":0.025,"T":4.05,"M":6.3},{"t":0.075,"T":4.05,"M":6.6},{"t":0.125,"T":4.05,"M":8.2},{"t":0.175,"T":4.05,"M":9.3},{"t":0.225,"T":4.05,"M":9.7},{"t":0.275,"T":4.05,"M":9.6},{"t":0.325,"T":4.05,"M":9.6},{"t":0.375,"T":4.05,"M":9.7},{"t":0.425,"T":4.05,"M":9.6},{"t":0.475,"T":4.05,"M":9.5},{"t":0.525,"T":4.05,"M":9.4},{"t":0.575,"T":4.05,"M":9.3},{"t":0.625,"T":4.05,"M":9.3},{"t":0.675,"T":4.05,"M":9.3},{"t":0.725,"T":4.05,"M":9.3},{"t":0.775,"T":4.05,"M":9.2},{"t":0.825,"T":4.05,"M":9.2},{"t":0.875,"T":4.05,"M":9.1},{"t":0.925,"T":4.05,"M":9.1},{"t":0.975,"T":4.05,"M":9},{"t":1.025,"T":4.05,"M":8.9},{"t":1.075,"T":4.05,"M":8.7},{"t":1.125,"T":4.05,"M":8.6},{"t":1.175,"T":4.05,"M":8.4},{"t":1.225,"T":4.05,"M":8.3},{"t":1.275,"T":4.05,"M":8.1},{"t":1.325,"T":4.05,"M":7.9},{"t":1.375,"T":4.05,"M":7.7},{"t":1.425,"T":4.05,"M":7.5},{"t":1.475,"T":4.05,"M":7.3},{"t":1.525,"T":4.05,"M":7},{"t":1.575,"T":4.05,"M":6.8},{"t":1.625,"T":4.05,"M":6.4}
],
"medium":[
{"t":0.125,"T":6.54,"M":6.9},{"t":0.175,"T":6.54,"M":7},{"t":0.225,"T":6.54,"M":6.9},{"t":0.275,"T":6.54,"M":6.8},{"t":0.325,"T":6.54,"M":6.2},{"t":0.375,"T":6.54,"M":6.4},{"t":0.425,"T":6.54,"M":6.2},{"t":0.475,"T":6.54,"M":6.4},{"t":0.525,"T":6.54,"M":6.2},{"t":0.575,"T":6.54,"M":6.1},{"t":0.625,"T":6.54,"M":6.1},{"t":0.675,"T":6.54,"M":6.3},{"t":0.725,"T":6.54,"M":7},
{"t":0.125,"T":6.5,"M":7.3},{"t":0.175,"T":6.5,"M":7.3},{"t":0.225,"T":6.5,"M":7.4},{"t":0.275,"T":6.5,"M":7.4},{"t":0.325,"T":6.5,"M":7.2},{"t":0.375,"T":6.5,"M":7.5},{"t":0.425,"T":6.5,"M":7.5},{"t":0.475,"T":6.5,"M":7.4},{"t":0.525,"T":6.5,"M":7.3},{"t":0.575,"T":6.5,"M":7.1},{"t":0.625,"T":6.5,"M":7.1},{"t":0.675,"T":6.5,"M":7},{"t":0.725,"T":6.5,"M":7.3},
{"t":0.775,"T":6.62,"M":6.4},{"t":0.825,"T":6.62,"M":6.2},{"t":0.875,"T":6.62,"M":6.4},{"t":0.925,"T":6.62,"M":6.3},{"t":0.975,"T":6.62,"M":6.2},
{"t":1.025,"T":6.7,"M":6.1},{"t":1.075,"T":6.7,"M":6.1},{"t":1.125,"T":6.7,"M":6.2},{"t":1.175,"T":6.7,"M":6},{"t":1.225,"T":6.7,"M":6.2},{"t":1.275,"T":6.7,"M":6.7},{"t":1.325,"T":6.7,"M":6.9},{"t":1.375,"T":6.7,"M":7},{"t":1.425,"T":6.7,"M":6.9},{"t":1.475,"T":6.7,"M":6.6},{"t":1.525,"T":6.7,"M":6},{"t":1.575,"T":6.7,"M":6.8},{"t":1.625,"T":6.7,"M":7},{"t":1.675,"T":6.7,"M":7.3},{"t":1.725,"T":6.7,"M":7},{"t":1.775,"T":6.7,"M":7.1},{"t":1.825,"T":6.7,"M":7.3},{"t":1.875,"T":6.7,"M":7.4},{"t":1.925,"T":6.7,"M":7.3},{"t":1.975,"T":6.7,"M":7.3},
{"t":0.275,"T":3.98,"M":8.6},{"t":0.325,"T":3.98,"M":8.7},{"t":0.375,"T":3.98,"M":8.6},{"t":0.425,"T":3.98,"M":8.6},{"t":0.475,"T":3.98,"M":8.5},{"t":0.525,"T":3.98,"M":8.5},{"t":0.575,"T":3.98,"M":8.5},{"t":0.625,"T":3.98,"M":8.4},{"t":0.675,"T":3.98,"M":8.3},{"t":0.725,"T":3.98,"M":8.3},{"t":0.775,"T":3.98,"M":8.2},{"t":0.825,"T":3.98,"M":8.2},{"t":0.875,"T":3.98,"M":8.2},{"t":0.925,"T":3.98,"M":8.1},{"t":0.975,"T":3.98,"M":8.1},{"t":1.025,"T":3.98,"M":8},{"t":1.075,"T":3.98,"M":8},{"t":1.125,"T":3.98,"M":7.9},{"t":1.175,"T":3.98,"M":7.8},{"t":1.225,"T":3.98,"M":7.7},{"t":1.275,"T":3.98,"M":7.5},{"t":1.325,"T":3.98,"M":7.3},{"t":1.375,"T":3.98,"M":7.1},{"t":1.425,"T":3.98,"M":6.9},{"t":1.475,"T":3.98,"M":6.8},{"t":1.525,"T":3.98,"M":6.2},
{"t":0.275,"T":3.94,"M":7.4},{"t":0.325,"T":3.94,"M":7.6},{"t":0.375,"T":3.94,"M":7.8},{"t":0.425,"T":3.94,"M":7.9},{"t":0.475,"T":3.94,"M":7.9},{"t":0.525,"T":3.94,"M":7.7},{"t":0.575,"T":3.94,"M":7.5},{"t":0.625,"T":3.94,"M":7.5},{"t":0.675,"T":3.94,"M":7.3},{"t":0.725,"T":3.94,"M":7.2},{"t":0.775,"T":3.94,"M":7.1},{"t":0.825,"T":3.94,"M":7.1},{"t":0.875,"T":3.94,"M":7},{"t":0.925,"T":3.94,"M":7},{"t":0.975,"T":3.94,"M":6.9},{"t":1.025,"T":3.94,"M":6.9},{"t":1.075,"T":3.94,"M":6.8},{"t":1.125,"T":3.94,"M":6.6},{"t":1.175,"T":3.94,"M":6.6},{"t":1.225,"T":3.94,"M":6.2},{"t":1.275,"T":3.94,"M":6.7},{"t":1.325,"T":3.94,"M":6.5},{"t":1.375,"T":3.94,"M":6},
{"t":0.275,"T":3.9,"M":7},{"t":0.325,"T":3.9,"M":7.2},{"t":0.375,"T":3.9,"M":7.4},{"t":0.425,"T":3.9,"M":7.5},{"t":0.475,"T":3.9,"M":7.4},{"t":0.525,"T":3.9,"M":7.1},{"t":0.575,"T":3.9,"M":7},{"t":0.625,"T":3.9,"M":6.9},{"t":0.675,"T":3.9,"M":6.9},{"t":0.725,"T":3.9,"M":6.9},{"t":0.775,"T":3.9,"M":6.8},{"t":0.825,"T":3.9,"M":6.6},{"t":0.875,"T":3.9,"M":6.5},{"t":0.925,"T":3.9,"M":6.6},{"t":0.975,"T":3.9,"M":6.3},{"t":1.025,"T":3.9,"M":6},{"t":1.075,"T":3.9,"M":6.2},{"t":1.125,"T":3.9,"M":6},
{"t":0.275,"T":3.86,"M":6.2},{"t":0.325,"T":3.86,"M":6.9},{"t":0.375,"T":3.86,"M":7.1},{"t":0.425,"T":3.86,"M":7.1},{"t":0.475,"T":3.86,"M":7},{"t":0.525,"T":3.86,"M":6.8},{"t":0.575,"T":3.86,"M":6.5},{"t":0.625,"T":3.86,"M":6},{"t":0.675,"T":3.86,"M":6.5},{"t":0.725,"T":3.86,"M":6.2},{"t":0.775,"T":3.86,"M":6},{"t":0.875,"T":3.86,"M":6},{"t":0.975,"T":3.86,"M":6},
{"t":0.275,"T":3.82,"M":6},{"t":0.325,"T":3.82,"M":6.8},{"t":0.375,"T":3.82,"M":7},{"t":0.425,"T":3.82,"M":7},{"t":0.475,"T":3.82,"M":6.9},{"t":0.525,"T":3.82,"M":6.7},{"t":0.575,"T":3.82,"M":6},{"t":0.625,"T":3.82,"M":6},{"t":0.675,"T":3.82,"M":6},{"t":0.725,"T":3.82,"M":6.3},
{"t":0.325,"T":3.78,"M":6.7},{"t":0.375,"T":3.78,"M":6.9},{"t":0.425,"T":3.78,"M":6.7},{"t":0.475,"T":3.78,"M":6.3},
{"t":0.325,"T":3.74,"M":6.4},{"t":0.375,"T":3.74,"M":6.3},{"t":0.425,"T":3.74,"M":6.2},{"t":0.475,"T":3.74,"M":6},
{"t":0.325,"T":3.7,"M":6.6},{"t":0.375,"T":3.7,"M":6.3},{"t":0.425,"T":3.7,"M":6.1},
{"t":0.325,"T":3.66,"M":6}
],
"fine":[
{"t":0.11,"T":4.02,"M":7.9},{"t":0.13,"T":4.02,"M":8.6},{"t":0.15,"T":4.02,"M":9.7},{"t":0.17,"T":4.02,"M":9.9},{"t":0.19,"T":4.02,"M":9.9},{"t":0.21,"T":4.02,"M":9.8},{"t":0.23,"T":4.02,"M":9.6},{"t":0.25,"T":4.02,"M":9.5},{"t":0.27,"T":4.02,"M":9.5},
{"t":0.11,"T":3.98,"M":8},{"t":0.13,"T":3.98,"M":8.8},{"t":0.15,"T":3.98,"M":9.6},{"t":0.17,"T":3.98,"M":9.9},{"t":0.19,"T":3.98,"M":9.8},{"t":0.21,"T":3.98,"M":9.4},{"t":0.23,"T":3.98,"M":9},{"t":0.25,"T":3.98,"M":8.7},{"t":0.27,"T":3.98,"M":8.5},
{"t":0.09,"T":3.94,"M":7},{"t":0.11,"T":3.94,"M":7.8},{"t":0.13,"T":3.94,"M":8.3},{"t":0.15,"T":3.94,"M":8.5},{"t":0.17,"T":3.94,"M":8.5},{"t":0.19,"T":3.94,"M":8.4},{"t":0.21,"T":3.94,"M":8.1},{"t":0.23,"T":3.94,"M":7.8},{"t":0.25,"T":3.94,"M":7.4},{"t":0.27,"T":3.94,"M":7.2},
{"t":0.09,"T":3.9,"M":7},{"t":0.11,"T":3.9,"M":7.6},{"t":0.13,"T":3.9,"M":8.2},{"t":0.15,"T":3.9,"M":8.5},{"t":0.17,"T":3.9,"M":8.5},{"t":0.19,"T":3.9,"M":8.3},{"t":0.21,"T":3.9,"M":8},{"t":0.23,"T":3.9,"M":7.6},{"t":0.25,"T":3.9,"M":7},{"t":0.27,"T":3.9,"M":6.9},
{"t":0.09,"T":3.86,"M":7},{"t":0.11,"T":3.86,"M":7.5},{"t":0.13,"T":3.86,"M":8.2},{"t":0.15,"T":3.86,"M":8.5},{"t":0.17,"T":3.86,"M":8.4},{"t":0.19,"T":3.86,"M":8.3},{"t":0.21,"T":3.86,"M":8},{"t":0.23,"T":3.86,"M":7.5},{"t":0.25,"T":3.86,"M":7},{"t":0.27,"T":3.86,"M":6.5},
{"t":0.09,"T":3.82,"M":6.9},{"t":0.11,"T":3.82,"M":7.4},{"t":0.13,"T":3.82,"M":8.2},{"t":0.15,"T":3.82,"M":8.4},{"t":0.17,"T":3.82,"M":8.4},{"t":0.19,"T":3.82,"M":8.2},{"t":0.21,"T":3.82,"M":7.9},{"t":0.23,"T":3.82,"M":7.4},{"t":0.25,"T":3.82,"M":6.9},{"t":0.27,"T":3.82,"M":6.3},
{"t":0.09,"T":3.78,"M":6.7},{"t":0.11,"T":3.78,"M":7.2},{"t":0.13,"T":3.78,"M":8.1},{"t":0.15,"T":3.78,"M":8.4},{"t":0.17,"T":3.78,"M":8.4},{"t":0.19,"T":3.78,"M":8.2},{"t":0.21,"T":3.78,"M":7.8},{"t":0.23,"T":3.78,"M":7.3},{"t":0.25,"T":3.78,"M":6.9},{"t":0.27,"T":3.78,"M":6.1},
{"t":0.09,"T":3.74,"M":6.5},{"t":0.11,"T":3.74,"M":7.3},{"t":0.13,"T":3.74,"M":8.2},{"t":0.15,"T":3.74,"M":8.4},{"t":0.17,"T":3.74,"M":8.4},{"t":0.19,"T":3.74,"M":8.1},{"t":0.21,"T":3.74,"M":7.7},{"t":0.23,"T":3.74,"M":7.3},{"t":0.25,"T":3.74,"M":6.9},{"t":0.27,"T":3.74,"M":6},
{"t":0.09,"T":3.7,"M":6.3},{"t":0.11,"T":3.7,"M":7.3},{"t":0.13,"T":3.7,"M":8.2},{"t":0.15,"T":3.7,"M":8.4},{"t":0.17,"T":3.7,"M":8.3},{"t":0.19,"T":3.7,"M":8.1},{"t":0.21,"T":3.7,"M":7.7},{"t":0.23,"T":3.7,"M":7.3},{"t":0.25,"T":3.7,"M":6.8},{"t":0.27,"T":3.7,"M":6},
{"t":0.09,"T":3.66,"M":6.5},{"t":0.11,"T":3.66,"M":7.4},{"t":0.13,"T":3.66,"M":8.2},{"t":0.15,"T":3.66,"M":8.4},{"t":0.17,"T":3.66,"M":8.3},{"t":0.19,"T":3.66,"M":8.1},{"t":0.21,"T":3.66,"M":7.7},{"t":0.23,"T":3.66,"M":7.2},{"t":0.25,"T":3.66,"M":6.9},{"t":0.27,"T":3.66,"M":6},
{"t":0.09,"T":3.62,"M":6.5},{"t":0.11,"T":3.62,"M":7.6},{"t":0.13,"T":3.62,"M":8.3},{"t":0.15,"T":3.62,"M":8.4},{"t":0.17,"T":3.62,"M":8.3},{"t":0.19,"T":3.62,"M":8},{"t":0.21,"T":3.62,"M":7.6},{"t":0.23,"T":3.62,"M":7.3},{"t":0.25,"T":3.62,"M":6.9},
{"t":0.09,"T":3.58,"M":6.4},{"t":0.11,"T":3.58,"M":7.5},{"t":0.13,"T":3.58,"M":8.2},{"t":0.15,"T":3.58,"M":8.3},{"t":0.17,"T":3.58,"M":8.2},{"t":0.19,"T":3.58,"M":8},{"t":0.21,"T":3.58,"M":7.6},{"t":0.23,"T":3.58,"M":7.2},{"t":0.25,"T":3.58,"M":6.9},
{"t":0.09,"T":3.54,"M":6},{"t":0.11,"T":3.54,"M":7.3},{"t":0.13,"T":3.54,"M":8.2},{"t":0.15,"T":3.54,"M":8.3},{"t":0.17,"T":3.54,"M":8.2},{"t":0.19,"T":3.54,"M":7.9},{"t":0.21,"T":3.54,"M":7.5},{"t":0.23,"T":3.54,"M":7.2},{"t":0.25,"T":3.54,"M":6.8},
{"t":0.11,"T":3.5,"M":7.2},{"t":0.13,"T":3.5,"M":8.1},{"t":0.15,"T":3.5,"M":8.2},{"t":0.17,"T":3.5,"M":8.1},{"t":0.19,"T":3.5,"M":7.9},{"t":0.21,"T":3.5,"M":7.5},{"t":0.23,"T":3.5,"M":7.1},{"t":0.25,"T":3.5,"M":6.5},
{"t":0.09,"T":3.46,"M":6},{"t":0.11,"T":3.46,"M":7.2},{"t":0.13,"T":3.46,"M":8.1},{"t":0.15,"T":3.46,"M":8.1},{"t":0.17,"T":3.46,"M":8},{"t":0.19,"T":3.46,"M":7.8},{"t":0.21,"T":3.46,"M":7.5},{"t":0.23,"T":3.46,"M":7},{"t":0.25,"T":3.46,"M":6.3},
{"t":0.11,"T":3.42,"M":7.1},{"t":0.13,"T":3.42,"M":7.9},{"t":0.15,"T":3.42,"M":8},{"t":0.17,"T":3.42,"M":8},{"t":0.19,"T":3.42,"M":7.7},{"t":0.21,"T":3.42,"M":7.4},{"t":0.23,"T":3.42,"M":6.9},{"t":0.25,"T":3.42,"M":6.2},
{"t":0.09,"T":3.38,"M":6},{"t":0.11,"T":3.38,"M":7},{"t":0.13,"T":3.38,"M":7.9},{"t":0.15,"T":3.38,"M":8},{"t":0.17,"T":3.38,"M":7.9},{"t":0.19,"T":3.38,"M":7.7},{"t":0.21,"T":3.38,"M":7.4},{"t":0.23,"T":3.38,"M":7},
{"t":0.09,"T":3.34,"M":6},{"t":0.11,"T":3.34,"M":7},{"t":0.13,"T":3.34,"M":7.8},{"t":0.15,"T":3.34,"M":7.9},{"t":0.17,"T":3.34,"M":7.9},{"t":0.19,"T":3.34,"M":7.7},{"t":0.21,"T":3.34,"M":7.3},{"t":0.23,"T":3.34,"M":6.4},
{"t":0.09,"T":3.3,"M":6},{"t":0.11,"T":3.3,"M":6.9},{"t":0.13,"T":3.3,"M":7.7},{"t":0.15,"T":3.3,"M":7.8},{"t":0.17,"T":3.3,"M":7.7},{"t":0.19,"T":3.3,"M":7.4},{"t":0.21,"T":3.3,"M":6.9},{"t":0.23,"T":3.3,"M":6.3},
{"t":0.11,"T":3.26,"M":6.9},{"t":0.13,"T":3.26,"M":7.6},{"t":0.15,"T":3.26,"M":7.8},{"t":0.17,"T":3.26,"M":7.5},{"t":0.19,"T":3.26,"M":7.2},{"t":0.21,"T":3.26,"M":6.1},
{"t":0.11,"T":3.22,"M":6.8},{"t":0.13,"T":3.22,"M":7.5},{"t":0.15,"T":3.22,"M":7.6},{"t":0.17,"T":3.22,"M":7.4},{"t":0.19,"T":3.22,"M":7},{"t":0.21,"T":3.22,"M":6},
{"t":0.11,"T":3.18,"M":6.8},{"t":0.13,"T":3.18,"M":7.4},{"t":0.15,"T":3.18,"M":7.6},{"t":0.17,"T":3.18,"M":7.2},{"t":0.19,"T":3.18,"M":6.8},
{"t":0.11,"T":3.14,"M":6.6},{"t":0.13,"T":3.14,"M":7.3},{"t":0.15,"T":3.14,"M":7.5},{"t":0.17,"T":3.14,"M":7.1},{"t":0.19,"T":3.14,"M":6.5},
{"t":0.11,"T":3.1,"M":6.5},{"t":0.13,"T":3.1,"M":7.3},{"t":0.15,"T":3.1,"M":7.4},{"t":0.17,"T":3.1,"M":6.9},{"t":0.19,"T":3.1,"M":6.2},
{"t":0.11,"T":3.06,"M":6.5},{"t":0.13,"T":3.06,"M":7.3},{"t":0.15,"T":3.06,"M":7.4},{"t":0.17,"T":3.06,"M":6.9},{"t":0.19,"T":3.06,"M":6.1},
{"t":0.11,"T":3.02,"M":6.2},{"t":0.13,"T":3.02,"M":7.3},{"t":0.15,"T":3.02,"M":7.3},{"t":0.17,"T":3.02,"M":6.9},{"t":0.19,"T":3.02,"M":6},
{"t":0.07,"T":4.02,"M":6.6},{"t":0.07,"T":3.98,"M":6.5},{"t":0.07,"T":3.94,"M":6.4},{"t":0.03,"T":4.02,"M":6},{"t":0.03,"T":3.86,"M":6},{"t":0.03,"T":3.82,"M":6},{"t":0.03,"T":3.5,"M":6},{"t":0.01,"T":3.82,"M":6},{"t":0.01,"T":3.78,"M":6},{"t":0.01,"T":3.74,"M":6},{"t":0.01,"T":3.7,"M":6},{"t":0.07,"T":3.62,"M":6},{"t":0.01,"T":3.02,"M":6},
{"t":0.31,"T":3.58,"M":6},{"t":0.33,"T":3.62,"M":6},{"t":0.33,"T":3.5,"M":6},{"t":0.39,"T":3.58,"M":6},{"t":0.41,"T":3.58,"M":6},{"t":0.43,"T":3.58,"M":6},{"t":0.53,"T":3.66,"M":6},
{"t":0.03,"T":6.78,"M":6},{"t":0.05,"T":6.78,"M":6.5},{"t":0.05,"T":6.74,"M":6},{"t":0.05,"T":6.7,"M":6.6},{"t":0.05,"T":6.66,"M":6.6},{"t":0.07,"T":6.66,"M":6},{"t":0.01,"T":6.66,"M":6},{"t":0.23,"T":6.66,"M":6},{"t":0.25,"T":6.66,"M":6},{"t":0.31,"T":6.66,"M":6.2},
{"t":0.05,"T":6.62,"M":6.5},{"t":0.07,"T":6.62,"M":6.9},{"t":0.09,"T":6.62,"M":6.2},{"t":0.13,"T":6.62,"M":6},{"t":0.15,"T":6.62,"M":6},{"t":0.25,"T":6.62,"M":6},{"t":0.29,"T":6.62,"M":6},{"t":0.31,"T":6.62,"M":6},
{"t":0.03,"T":6.58,"M":6},{"t":0.09,"T":6.58,"M":6.8},{"t":0.11,"T":6.58,"M":6.9},{"t":0.13,"T":6.58,"M":6.5},{"t":0.15,"T":6.58,"M":6.3},{"t":0.17,"T":6.58,"M":6},{"t":0.21,"T":6.58,"M":6.3},{"t":0.23,"T":6.58,"M":6.9},{"t":0.25,"T":6.58,"M":6},{"t":0.27,"T":6.58,"M":6},{"t":0.29,"T":6.58,"M":6.2},{"t":0.33,"T":6.58,"M":6},{"t":0.35,"T":6.58,"M":6},{"t":0.37,"T":6.58,"M":6.2},{"t":0.39,"T":6.58,"M":6.2},{"t":0.43,"T":6.58,"M":6},{"t":0.49,"T":6.58,"M":6.2},{"t":0.51,"T":6.58,"M":6.2},{"t":0.69,"T":6.58,"M":6.2},{"t":0.71,"T":6.58,"M":6},
{"t":0.03,"T":6.54,"M":6.2},{"t":0.03,"T":6.46,"M":6.1},{"t":0.03,"T":6.42,"M":6.1},{"t":0.03,"T":6.3,"M":6.8},{"t":0.03,"T":6.26,"M":6.8},{"t":0.03,"T":6.22,"M":6.9},{"t":0.03,"T":6.18,"M":7},{"t":0.03,"T":6.14,"M":7.1},{"t":0.03,"T":6.1,"M":7.2},{"t":0.01,"T":6.34,"M":6},{"t":0.01,"T":6.22,"M":6},{"t":0.01,"T":6.18,"M":6},{"t":0.01,"T":6.14,"M":6.5},{"t":0.01,"T":6.1,"M":6.9},
{"t":0.045,"T":6.46,"M":6.9},{"t":0.045,"T":6.42,"M":7},{"t":0.045,"T":6.38,"M":7.1},{"t":0.045,"T":6.34,"M":7.2},{"t":0.045,"T":6.3,"M":7.2},{"t":0.045,"T":6.26,"M":7.3},{"t":0.045,"T":6.22,"M":7.3},{"t":0.045,"T":6.18,"M":7.4},{"t":0.045,"T":6.14,"M":7.4},{"t":0.045,"T":6.1,"M":7.4},
{"t":0.77,"T":6.66,"M":6},{"t":0.81,"T":6.66,"M":6},{"t":0.85,"T":6.66,"M":6},{"t":0.89,"T":6.66,"M":6},{"t":0.93,"T":6.66,"M":6},{"t":0.97,"T":6.66,"M":6},
{"t":1.07,"T":6.74,"M":6},{"t":1.09,"T":6.74,"M":6},{"t":1.11,"T":6.74,"M":6},{"t":1.17,"T":6.74,"M":6},{"t":1.21,"T":6.74,"M":6},{"t":1.27,"T":6.74,"M":6.3},{"t":1.29,"T":6.74,"M":6.3},{"t":1.31,"T":6.74,"M":6.3},{"t":1.39,"T":6.74,"M":6.4},{"t":1.43,"T":6.74,"M":6},{"t":1.45,"T":6.74,"M":6.4},{"t":1.47,"T":6.74,"M":6.4},{"t":1.83,"T":6.74,"M":6},{"t":1.87,"T":6.74,"M":6.2},{"t":1.89,"T":6.74,"M":6.5},{"t":1.91,"T":6.74,"M":6.2},{"t":1.93,"T":6.74,"M":6},{"t":1.39,"T":6.78,"M":6.4},{"t":1.41,"T":6.78,"M":6},{"t":1.41,"T":6.82,"M":6.4},
{"t":1.93,"T":6.26,"M":6.3},{"t":1.95,"T":6.26,"M":6.1},{"t":1.93,"T":6.22,"M":6.2},{"t":1.95,"T":6.22,"M":6.2},{"t":1.97,"T":6.22,"M":6},{"t":1.93,"T":6.18,"M":6},{"t":1.95,"T":6.18,"M":6},{"t":1.91,"T":6.14,"M":6.1},{"t":1.93,"T":6.14,"M":6},{"t":1.89,"T":6.1,"M":6.2},{"t":1.91,"T":6.1,"M":6},{"t":1.93,"T":6.1,"M":6},{"t":1.93,"T":6.06,"M":6},{"t":1.87,"T":6.02,"M":6.3},{"t":1.89,"T":6.02,"M":6},{"t":1.91,"T":6.02,"M":6},{"t":1.85,"T":5.98,"M":6.3},{"t":1.87,"T":5.98,"M":6.1},{"t":1.89,"T":5.94,"M":6},{"t":1.91,"T":5.94,"M":6},{"t":1.93,"T":5.94,"M":6},{"t":1.85,"T":5.9,"M":6.2},{"t":1.87,"T":5.9,"M":6},{"t":1.89,"T":5.9,"M":6},{"t":1.85,"T":5.86,"M":6},{"t":1.87,"T":5.86,"M":6},{"t":1.91,"T":5.86,"M":6},{"t":1.83,"T":5.82,"M":6.2},{"t":1.85,"T":5.82,"M":6},{"t":1.89,"T":5.82,"M":6.3},{"t":1.81,"T":5.78,"M":6.2},{"t":1.83,"T":5.78,"M":6},{"t":1.85,"T":5.78,"M":6},{"t":1.91,"T":5.78,"M":6},{"t":1.79,"T":5.74,"M":6.2},{"t":1.81,"T":5.74,"M":6},{"t":1.83,"T":5.74,"M":6},{"t":1.89,"T":5.74,"M":6},{"t":1.79,"T":5.7,"M":6.1},{"t":1.81,"T":5.7,"M":6},{"t":1.83,"T":5.7,"M":6},{"t":1.85,"T":5.7,"M":6},{"t":1.79,"T":5.66,"M":6},{"t":1.81,"T":5.66,"M":6},{"t":1.89,"T":5.66,"M":6},{"t":1.77,"T":5.62,"M":6.2},{"t":1.79,"T":5.62,"M":6},{"t":1.81,"T":5.62,"M":6},{"t":1.83,"T":5.62,"M":6},{"t":1.77,"T":5.58,"M":6.1},{"t":1.79,"T":5.58,"M":6},{"t":1.83,"T":5.58,"M":6},{"t":1.73,"T":5.54,"M":6.3},{"t":1.75,"T":5.54,"M":6.1},{"t":1.77,"T":5.54,"M":6},{"t":1.79,"T":5.54,"M":6},
{"t":1.71,"T":5.5,"M":6.3},{"t":1.73,"T":5.5,"M":6},{"t":1.75,"T":5.5,"M":6},{"t":1.77,"T":5.5,"M":6},{"t":1.79,"T":5.5,"M":6},{"t":1.81,"T":5.5,"M":6},{"t":1.71,"T":5.46,"M":6.1},{"t":1.75,"T":5.46,"M":6},{"t":1.77,"T":5.46,"M":6},{"t":1.81,"T":5.46,"M":6},{"t":1.83,"T":5.46,"M":6},{"t":1.85,"T":5.46,"M":6.2},{"t":1.69,"T":5.42,"M":6.2},{"t":1.73,"T":5.42,"M":6},{"t":1.75,"T":5.42,"M":6},{"t":1.77,"T":5.42,"M":6},{"t":1.79,"T":5.42,"M":6},{"t":1.87,"T":5.42,"M":6},{"t":1.69,"T":5.38,"M":6.2},{"t":1.71,"T":5.38,"M":6},{"t":1.73,"T":5.38,"M":6},{"t":1.77,"T":5.38,"M":6},{"t":1.79,"T":5.38,"M":6},{"t":1.83,"T":5.38,"M":6},{"t":1.87,"T":5.38,"M":6},{"t":1.67,"T":5.34,"M":6.2},{"t":1.71,"T":5.34,"M":6},{"t":1.75,"T":5.34,"M":6},{"t":1.77,"T":5.34,"M":6},{"t":1.81,"T":5.34,"M":6},{"t":1.67,"T":5.3,"M":6.1},{"t":1.69,"T":5.3,"M":6},{"t":1.71,"T":5.3,"M":6},{"t":1.73,"T":5.3,"M":6},{"t":1.81,"T":5.3,"M":6},{"t":1.69,"T":5.26,"M":6},{"t":1.71,"T":5.26,"M":6},{"t":1.75,"T":5.26,"M":6.3},{"t":1.77,"T":5.26,"M":6},{"t":1.67,"T":5.22,"M":6},{"t":1.69,"T":5.22,"M":6},{"t":1.71,"T":5.22,"M":6},{"t":1.75,"T":5.22,"M":6},{"t":1.67,"T":5.18,"M":6},{"t":1.69,"T":5.18,"M":6},{"t":1.71,"T":5.18,"M":6},{"t":1.65,"T":5.14,"M":6.1},{"t":1.67,"T":5.14,"M":6},{"t":1.71,"T":5.14,"M":6},{"t":1.65,"T":5.1,"M":6},{"t":1.67,"T":5.1,"M":6},{"t":1.69,"T":5.1,"M":6},{"t":1.73,"T":5.1,"M":6},{"t":1.75,"T":5.1,"M":6},{"t":1.61,"T":5.06,"M":6.1},{"t":1.63,"T":5.06,"M":6},{"t":1.65,"T":5.06,"M":6},{"t":1.67,"T":5.06,"M":6},{"t":1.69,"T":5.06,"M":6},{"t":1.79,"T":5.06,"M":6},{"t":1.63,"T":5.02,"M":6},{"t":1.65,"T":5.02,"M":6},{"t":1.67,"T":5.02,"M":6},{"t":1.71,"T":5.02,"M":6.3},{"t":1.73,"T":5.02,"M":6},{"t":1.65,"T":4.98,"M":6.2},{"t":1.67,"T":4.98,"M":6},{"t":1.69,"T":4.98,"M":6},{"t":1.79,"T":4.98,"M":6},{"t":1.65,"T":4.94,"M":6},{"t":1.67,"T":4.94,"M":6.3},{"t":1.69,"T":4.94,"M":6},{"t":1.75,"T":4.94,"M":6},{"t":1.65,"T":4.9,"M":6},{"t":1.71,"T":4.9,"M":6.3},{"t":1.77,"T":4.9,"M":6},{"t":1.65,"T":4.86,"M":6},{"t":1.67,"T":4.86,"M":6},{"t":1.69,"T":4.86,"M":6},{"t":1.71,"T":4.86,"M":6},{"t":1.73,"T":4.86,"M":6},{"t":1.75,"T":4.86,"M":6},{"t":1.69,"T":4.82,"M":6.3},{"t":1.71,"T":4.82,"M":6},{"t":1.73,"T":4.82,"M":6},{"t":1.75,"T":4.82,"M":6},{"t":1.77,"T":4.82,"M":6},{"t":1.79,"T":4.82,"M":6.2},{"t":1.83,"T":4.82,"M":6},
{"t":1.67,"T":4.78,"M":6},{"t":1.69,"T":4.78,"M":6},{"t":1.71,"T":4.78,"M":6},{"t":1.65,"T":4.74,"M":6},{"t":1.67,"T":4.74,"M":6},{"t":1.69,"T":4.74,"M":6},{"t":1.71,"T":4.74,"M":6},{"t":1.81,"T":4.74,"M":6},{"t":1.65,"T":4.7,"M":6.3},{"t":1.67,"T":4.7,"M":6},{"t":1.73,"T":4.7,"M":6.2},{"t":1.63,"T":4.66,"M":6},{"t":1.65,"T":4.66,"M":6},{"t":1.67,"T":4.66,"M":6},{"t":1.71,"T":4.66,"M":6},{"t":1.61,"T":4.62,"M":6},{"t":1.63,"T":4.62,"M":6},{"t":1.65,"T":4.62,"M":6},{"t":1.67,"T":4.62,"M":6},{"t":1.59,"T":4.58,"M":6},{"t":1.61,"T":4.58,"M":6},{"t":1.63,"T":4.58,"M":6},{"t":1.65,"T":4.58,"M":6.4},{"t":1.69,"T":4.58,"M":6},{"t":1.67,"T":4.54,"M":6},{"t":1.61,"T":4.5,"M":6},{"t":1.63,"T":4.5,"M":6},{"t":1.65,"T":4.5,"M":6},{"t":1.69,"T":4.5,"M":6},{"t":1.59,"T":4.46,"M":6},{"t":1.63,"T":4.46,"M":6},{"t":1.65,"T":4.46,"M":6},{"t":1.69,"T":4.46,"M":6},{"t":1.71,"T":4.46,"M":6},{"t":1.69,"T":4.42,"M":6},{"t":1.73,"T":4.42,"M":6},{"t":1.81,"T":4.42,"M":6},{"t":1.63,"T":4.38,"M":6},{"t":1.65,"T":4.38,"M":6},{"t":1.67,"T":4.38,"M":6},{"t":1.61,"T":4.34,"M":6},{"t":1.65,"T":4.34,"M":6},{"t":1.69,"T":4.34,"M":6},{"t":1.71,"T":4.34,"M":6},{"t":1.73,"T":4.34,"M":6},{"t":1.71,"T":4.3,"M":6},{"t":1.65,"T":4.26,"M":6},{"t":1.67,"T":4.26,"M":6},{"t":1.69,"T":4.26,"M":6},{"t":1.65,"T":4.22,"M":6},{"t":1.67,"T":4.22,"M":6},{"t":1.71,"T":4.22,"M":6},{"t":1.73,"T":4.18,"M":6},{"t":1.65,"T":4.14,"M":6.2},{"t":1.67,"T":4.14,"M":6},{"t":1.69,"T":4.14,"M":6.4},{"t":1.69,"T":4.1,"M":6},{"t":1.65,"T":4.06,"M":6},
{"t":1.61,"T":3.98,"M":6},{"t":1.33,"T":3.9,"M":6},{"t":1.35,"T":3.9,"M":6},{"t":1.35,"T":3.86,"M":6},{"t":1.25,"T":3.82,"M":6},{"t":1.29,"T":3.22,"M":6},{"t":1.1,"T":3.78,"M":6},{"t":1.17,"T":3.7,"M":6},{"t":1.17,"T":3.66,"M":6},{"t":0.97,"T":3.82,"M":6},{"t":1.03,"T":3.86,"M":6}
],
"cuts":[{"t":0.24,"s":"0.25"},{"t":0.505,"s":"0.50"},{"t":0.746,"s":"0.75"},{"t":1.008,"s":"1.00"},{"t":1.512,"s":"1.50"}],
"profiles":[
{"s":"0.25","M":4.9,"T":6.66},{"s":"0.25","M":6.01,"T":6.66},{"s":"0.25","M":6.03,"T":6.61},{"s":"0.25","M":6.93,"T":6.52},{"s":"0.25","M":7.45,"T":6.49},{"s":"0.25","M":8.3,"T":6.39},{"s":"0.25","M":8.58,"T":6.33},{"s":"0.25","M":8.77,"T":6.21},{"s":"0.25","M":8.72,"T":6.18},{"s":"0.25","M":8.84,"T":6.09},{"s":"0.25","M":8.77,"T":5.87},{"s":"0.25","M":8.71,"T":5.69},{"s":"0.25","M":8.68,"T":5.47},{"s":"0.25","M":8.63,"T":5.29},{"s":"0.25","M":8.63,"T":5.2},{"s":"0.25","M":8.58,"T":5.155},{"s":"0.25","M":8.66,"T":5.02},{"s":"0.25","M":8.96,"T":4.89},{"s":"0.25","M":9.01,"T":4.84},{"s":"0.25","M":8.72,"T":4.66},{"s":"0.25","M":8.72,"T":4.53},{"s":"0.25","M":8.87,"T":4.44},{"s":"0.25","M":9.43,"T":4.3},{"s":"0.25","M":9.62,"T":4.19},{"s":"0.25","M":9.62,"T":4.1},{"s":"0.25","M":9.43,"T":4.02},{"s":"0.25","M":9.15,"T":3.99},{"s":"0.25","M":8.39,"T":3.95},{"s":"0.25","M":7.64,"T":3.92},{"s":"0.25","M":7.21,"T":3.83},{"s":"0.25","M":7.21,"T":3.8},{"s":"0.25","M":6.93,"T":3.75},{"s":"0.25","M":7.05,"T":3.71},{"s":"0.25","M":6.98,"T":3.65},{"s":"0.25","M":7.12,"T":3.59},{"s":"0.25","M":6.46,"T":3.55},{"s":"0.25","M":6.88,"T":3.505},{"s":"0.25","M":6.46,"T":3.46},{"s":"0.25","M":6.88,"T":3.42},{"s":"0.25","M":6.32,"T":3.39},{"s":"0.25","M":4.9,"T":3.39},
{"s":"0.50","M":4.9,"T":6.58},{"s":"0.50","M":6.27,"T":6.58},{"s":"0.50","M":6.98,"T":6.52},{"s":"0.50","M":4.9,"T":6.495},{"s":"0.50","M":7.45,"T":6.495},{"s":"0.50","M":8.39,"T":6.42},{"s":"0.50","M":8.96,"T":6.345},{"s":"0.50","M":9.15,"T":6.1},{"s":"0.50","M":9.15,"T":5.87},{"s":"0.50","M":9.05,"T":5.69},{"s":"0.50","M":8.82,"T":5.47},{"s":"0.50","M":8.68,"T":5.29},{"s":"0.50","M":8.58,"T":5.13},{"s":"0.50","M":8.63,"T":5.02},{"s":"0.50","M":8.96,"T":4.89},{"s":"0.50","M":9.05,"T":4.84},{"s":"0.50","M":8.77,"T":4.68},{"s":"0.50","M":8.58,"T":4.53},{"s":"0.50","M":8.77,"T":4.41},{"s":"0.50","M":9.24,"T":4.28},{"s":"0.50","M":9.48,"T":4.12},{"s":"0.50","M":9.43,"T":4.03},{"s":"0.50","M":8.68,"T":3.98},{"s":"0.50","M":7.73,"T":3.94},{"s":"0.50","M":6.03,"T":3.79},{"s":"0.50","M":4.9,"T":3.79},
{"s":"0.75","M":4.9,"T":6.62},{"s":"0.75","M":6.03,"T":6.62},{"s":"0.75","M":6.93,"T":6.57},{"s":"0.75","M":6.98,"T":6.52},{"s":"0.75","M":7.83,"T":6.49},{"s":"0.75","M":8.39,"T":6.446},{"s":"0.75","M":9.01,"T":6.38},{"s":"0.75","M":9.24,"T":6.28},{"s":"0.75","M":9.32,"T":6.1},{"s":"0.75","M":9.24,"T":5.87},{"s":"0.75","M":9.05,"T":5.69},{"s":"0.75","M":8.87,"T":5.47},{"s":"0.75","M":8.77,"T":5.29},{"s":"0.75","M":8.63,"T":5.155},{"s":"0.75","M":8.63,"T":5.065},{"s":"0.75","M":8.96,"T":4.89},{"s":"0.75","M":9.01,"T":4.84},{"s":"0.75","M":8.77,"T":4.68},{"s":"0.75","M":8.63,"T":4.53},{"s":"0.75","M":8.77,"T":4.44},{"s":"0.75","M":9.24,"T":4.26},{"s":"0.75","M":9.43,"T":4.12},{"s":"0.75","M":9.39,"T":4.04},{"s":"0.75","M":8.68,"T":3.99},{"s":"0.75","M":7.73,"T":3.95},{"s":"0.75","M":6.01,"T":3.82},{"s":"0.75","M":6.01,"T":3.79},{"s":"0.75","M":4.9,"T":3.79},{"s":"0.75","M":null,"T":3.7},{"s":"0.75","M":4.9,"T":3.63},{"s":"0.75","M":6.01,"T":3.63},
{"s":"1.00","M":4.9,"T":6.62},{"s":"1.00","M":7.12,"T":6.62},{"s":"1.00","M":7.92,"T":6.58},{"s":"1.00","M":8.58,"T":6.535},{"s":"1.00","M":9.24,"T":6.446},{"s":"1.00","M":9.48,"T":6.37},{"s":"1.00","M":9.57,"T":6.28},{"s":"1.00","M":9.48,"T":6.1},{"s":"1.00","M":9.29,"T":5.96},{"s":"1.00","M":9.15,"T":5.81},{"s":"1.00","M":9.01,"T":5.69},{"s":"1.00","M":8.82,"T":5.58},{"s":"1.00","M":8.68,"T":5.47},{"s":"1.00","M":8.56,"T":5.33},{"s":"1.00","M":8.54,"T":5.2},{"s":"1.00","M":8.35,"T":5.09},{"s":"1.00","M":8.39,"T":5},{"s":"1.00","M":8.68,"T":4.9},{"s":"1.00","M":8.77,"T":4.85},{"s":"1.00","M":8.54,"T":4.73},{"s":"1.00","M":8.44,"T":4.67},{"s":"1.00","M":8.16,"T":4.56},{"s":"1.00","M":8.16,"T":4.48},{"s":"1.00","M":8.39,"T":4.39},{"s":"1.00","M":8.77,"T":4.3},{"s":"1.00","M":9.01,"T":4.21},{"s":"1.00","M":9.13,"T":4.1},{"s":"1.00","M":8.77,"T":4.01},{"s":"1.00","M":7.45,"T":3.95},{"s":"1.00","M":6.51,"T":3.92},{"s":"1.00","M":4.9,"T":3.91},
{"s":"1.50","M":4.9,"T":6.704},{"s":"1.50","M":6.32,"T":6.704},{"s":"1.50","M":7.83,"T":6.663},{"s":"1.50","M":8.68,"T":6.63},{"s":"1.50","M":9.15,"T":6.59},{"s":"1.50","M":9.57,"T":6.54},{"s":"1.50","M":9.76,"T":6.49},{"s":"1.50","M":9.84,"T":6.446},{"s":"1.50","M":9.81,"T":6.4},{"s":"1.50","M":9.62,"T":6.32},{"s":"1.50","M":9.34,"T":6.27},{"s":"1.50","M":9.01,"T":6.205},{"s":"1.50","M":8.77,"T":6.14},{"s":"1.50","M":8.58,"T":6.075},{"s":"1.50","M":8.35,"T":6.01},{"s":"1.50","M":8.27,"T":5.94},{"s":"1.50","M":8.28,"T":5.89},{"s":"1.50","M":8.02,"T":5.82},{"s":"1.50","M":8,"T":5.76},{"s":"1.50","M":7.86,"T":5.69},{"s":"1.50","M":7.92,"T":5.65},{"s":"1.50","M":7.64,"T":5.57},{"s":"1.50","M":7.64,"T":5.5},{"s":"1.50","M":7.38,"T":5.45},{"s":"1.50","M":7.5,"T":5.41},{"s":"1.50","M":7.19,"T":5.37},{"s":"1.50","M":7.37,"T":5.32},{"s":"1.50","M":7.21,"T":5.285},{"s":"1.50","M":7.29,"T":5.245},{"s":"1.50","M":7.07,"T":5.2},{"s":"1.50","M":7.21,"T":5.13},{"s":"1.50","M":7.07,"T":5.08},{"s":"1.50","M":7.24,"T":5.04},{"s":"1.50","M":7.17,"T":4.94},{"s":"1.50","M":7.45,"T":4.89},{"s":"1.50","M":7.59,"T":4.845},{"s":"1.50","M":7.26,"T":4.8},{"s":"1.50","M":6.91,"T":4.76},{"s":"1.50","M":7.17,"T":4.71},{"s":"1.50","M":7.15,"T":4.67},{"s":"1.50","M":6.96,"T":4.64},{"s":"1.50","M":6.91,"T":4.6},{"s":"1.50","M":6.3,"T":4.55},{"s":"1.50","M":6.62,"T":4.53},{"s":"1.50","M":6.3,"T":4.48},{"s":"1.50","M":6.58,"T":4.44},{"s":"1.50","M":6.6,"T":4.4},{"s":"1.50","M":6.93,"T":4.365},{"s":"1.50","M":7.17,"T":4.3},{"s":"1.50","M":7.31,"T":4.27},{"s":"1.50","M":7.36,"T":4.21},{"s":"1.50","M":7.73,"T":4.16},{"s":"1.50","M":8,"T":4.11},{"s":"1.50","M":7.87,"T":4.07},{"s":"1.50","M":7.17,"T":4.03},{"s":"1.50","M":6.51,"T":3.99},{"s":"1.50","M":4.9,"T":3.99}
]
},
"vconcat":[
{"width":762,"height":30,
"resolve":{"axis":{"x":"independent","y":"independent"}},
"layer":[
{"data":{"name":"bar"},"mark":{"type":"rect","width":6,"clip":true},"encoding":{
"x":{"field":"M","type":"quantitative","scale":{"domain":[4.915,12.085],"nice":false,"zero":false},"axis":{"orient":"top","values":[5,6,7,8,9,10,11,12],"tickSize":-9,"labelPadding":21,"labelExpr":"'10'+{'5':'⁵','6':'⁶','7':'⁷','8':'⁸','9':'⁹','10':'¹⁰','11':'¹¹','12':'¹²'}[datum.value]"}},
"color":{"field":"M","type":"quantitative","legend":null,"scale":{"domain":[5,5.5,6,6.5,6.85,7,7.5,8,8.5,9,9.5,10,10.5,11,11.5,12],"range":["#ffffff","#fcd9bd","#ecc87f","#d0bd3f","#a0b800","#8fb61a","#4da855","#1b8c70","#0f7c7c","#0c6e82","#0a5f88","#2e3e96","#42107e","#2e0a50","#150310","#000000"],"interpolate":"rgb","clamp":true}}}},
{"data":{"name":"frame"},"mark":{"type":"point","opacity":0},"encoding":{
"x":{"field":"M","type":"quantitative","axis":{"orient":"top","labels":false,"domain":false,"tickSize":-4.5,"values":[4.954,5.301,5.477,5.602,5.699,5.778,5.845,5.903,5.954,6.301,6.477,6.602,6.699,6.778,6.845,6.903,6.954,7.301,7.477,7.602,7.699,7.778,7.845,7.903,7.954,8.301,8.477,8.602,8.699,8.778,8.845,8.903,8.954,9.301,9.477,9.602,9.699,9.778,9.845,9.903,9.954,10.301,10.477,10.602,10.699,10.778,10.845,10.903,10.954,11.301,11.477,11.602,11.699,11.778,11.845,11.903,11.954]}},
"y":{"field":"y","type":"quantitative","scale":{"domain":[0,1],"nice":false},"axis":{"orient":"left","labels":false,"ticks":false}}}},
{"data":{"name":"frame"},"mark":{"type":"point","opacity":0},"encoding":{
"x":{"field":"M","type":"quantitative","axis":{"orient":"bottom","labels":false,"ticks":false}},
"y":{"field":"y","type":"quantitative","axis":{"orient":"right","labels":false,"ticks":false}}}},
{"data":{"values":[{"M":5.0185,"y":3.277,"s":"dM/d"},{"M":6.552,"y":3.277,"s":"T"},{"M":6.976,"y":3.277,"s":"M"}]},"mark":{"type":"text","align":"left","baseline":"alphabetic","fontSize":33,"fontStyle":"italic","font":"DejaVu Sans","color":"black"},"encoding":{"x":{"field":"M","type":"quantitative","axis":null},"y":{"field":"y","type":"quantitative","axis":null},"text":{"field":"s"}}},
{"data":{"values":[{"M":5.787,"y":3.277,"s":"log"},{"M":6.869,"y":3.277,"s":"["},{"M":7.587,"y":3.277,"s":"dex"},{"M":8.481,"y":3.277,"s":"]"},{"M":8.707,"y":3.277,"s":"(20xm09_far_lowres)"}]},"mark":{"type":"text","align":"left","baseline":"alphabetic","fontSize":33.3,"font":"DejaVu Sans","color":"black"},"encoding":{"x":{"field":"M","type":"quantitative","axis":null},"y":{"field":"y","type":"quantitative","axis":null},"text":{"field":"s"}}},
{"data":{"values":[{"M":6.27,"y":3.11,"s":"10"},{"M":7.286,"y":3.13,"s":"☉"},{"M":8.152,"y":3.9,"s":"−1"}]},"mark":{"type":"text","align":"left","baseline":"alphabetic","fontSize":23,"font":"DejaVu Sans","color":"black"},"encoding":{"x":{"field":"M","type":"quantitative","axis":null},"y":{"field":"y","type":"quantitative","axis":null},"text":{"field":"s"}}}
]},
{"spacing":25,"bounds":"flush","hconcat":[
{"width":762,"height":594,
"resolve":{"axis":{"x":"independent","y":"independent"}},
"layer":[
{"data":{"name":"coarse"},"mark":{"type":"rect","width":19.6,"height":15.4,"clip":true},"encoding":{
"x":{"field":"t","type":"quantitative","scale":{"domain":[0,2],"nice":false},"axis":{"values":[0,0.25,0.5,0.75,1,1.25,1.5,1.75,2],"format":".2f","tickSize":-9,"labelPadding":18.5}},
"y":{"field":"T","type":"quantitative","scale":{"domain":[3,7],"nice":false,"zero":false},"axis":{"values":[3,4,5,6,7],"tickSize":-9,"labelPadding":20,"labelExpr":"'10'+['⁰','¹','²','³','⁴','⁵','⁶','⁷'][datum.value]"}},
"color":{"field":"M","type":"quantitative","legend":null}}},
{"data":{"name":"medium"},"mark":{"type":"rect","width":19.6,"height":6.3,"clip":true},"encoding":{"x":{"field":"t","type":"quantitative","axis":null},"y":{"field":"T","type":"quantitative","axis":null},"color":{"field":"M","type":"quantitative","legend":null}}},
{"data":{"name":"fine"},"mark":{"type":"rect","width":7.9,"height":6.3,"clip":true},"encoding":{"x":{"field":"t","type":"quantitative","axis":null},"y":{"field":"T","type":"quantitative","axis":null},"color":{"field":"M","type":"quantitative","legend":null}}},
{"data":{"name":"cuts"},"mark":{"type":"rule","strokeDash":[7,4],"strokeWidth":3.5},"encoding":{"x":{"field":"t","type":"quantitative","axis":null},"stroke":{"field":"s","type":"nominal","legend":null,"scale":{"domain":["0.25","0.50","0.75","1.00","1.50"],"range":["#000000","#4a0000","#960000","#e83400","#ff9933"]}}}},
{"data":{"name":"frame"},"mark":{"type":"point","opacity":0},"encoding":{
"x":{"field":"t","type":"quantitative","axis":{"orient":"top","values":[0,0.25,0.5,0.75,1,1.25,1.5,1.75,2],"labels":false,"tickSize":-9}},
"y":{"field":"T","type":"quantitative","axis":{"orient":"right","values":[3,4,5,6,7],"labels":false,"tickSize":-9}}}},
{"data":{"name":"frame"},"mark":{"type":"point","opacity":0},"encoding":{
"x":{"field":"t","type":"quantitative","axis":{"orient":"bottom","domain":false,"labels":false,"tickSize":-5,"values":[0.05,0.1,0.15,0.2,0.3,0.35,0.4,0.45,0.55,0.6,0.65,0.7,0.8,0.85,0.9,0.95,1.05,1.1,1.15,1.2,1.3,1.35,1.4,1.45,1.55,1.6,1.65,1.7,1.8,1.85,1.9,1.95]}},
"y":{"field":"T","type":"quantitative","axis":{"orient":"left","domain":false,"labels":false,"tickSize":-5,"values":[3.301,3.477,3.602,3.699,3.778,3.845,3.903,3.954,4.301,4.477,4.602,4.699,4.778,4.845,4.903,4.954,5.301,5.477,5.602,5.699,5.778,5.845,5.903,5.954,6.301,6.477,6.602,6.699,6.778,6.845,6.903,6.954]}}}},
{"data":{"name":"frame"},"mark":{"type":"point","opacity":0},"encoding":{
"x":{"field":"t","type":"quantitative","axis":{"orient":"top","domain":false,"labels":false,"tickSize":-5,"values":[0.05,0.1,0.15,0.2,0.3,0.35,0.4,0.45,0.55,0.6,0.65,0.7,0.8,0.85,0.9,0.95,1.05,1.1,1.15,1.2,1.3,1.35,1.4,1.45,1.55,1.6,1.65,1.7,1.8,1.85,1.9,1.95]}},
"y":{"field":"T","type":"quantitative","axis":{"orient":"right","domain":false,"labels":false,"tickSize":-5,"values":[3.301,3.477,3.602,3.699,3.778,3.845,3.903,3.954,4.301,4.477,4.602,4.699,4.778,4.845,4.903,4.954,5.301,5.477,5.602,5.699,5.778,5.845,5.903,5.954,6.301,6.477,6.602,6.699,6.778,6.845,6.903,6.954]}}}},
{"data":{"values":[{"t":0.869,"T":2.495,"s":"t"}]},"mark":{"type":"text","align":"left","baseline":"alphabetic","fontSize":31,"fontStyle":"italic","font":"DejaVu Sans","color":"black","clip":false},"encoding":{"x":{"field":"t","type":"quantitative","axis":null},"y":{"field":"T","type":"quantitative","axis":null},"text":{"field":"s"}}},
{"data":{"values":[{"t":0.921,"T":2.495,"s":"(Gyr)"}]},"mark":{"type":"text","align":"left","baseline":"alphabetic","fontSize":31,"font":"DejaVu Sans","color":"black","clip":false},"encoding":{"x":{"field":"t","type":"quantitative","axis":null},"y":{"field":"T","type":"quantitative","axis":null},"text":{"field":"s"}}},
{"data":{"values":[{"t":-0.207,"T":4.771,"s":"T"}]},"mark":{"type":"text","align":"left","baseline":"alphabetic","angle":270,"fontSize":31,"fontStyle":"italic","font":"DejaVu Sans","color":"black","clip":false},"encoding":{"x":{"field":"t","type":"quantitative","axis":null},"y":{"field":"T","type":"quantitative","axis":null},"text":{"field":"s"}}},
{"data":{"values":[{"t":-0.207,"T":4.941,"s":"(K)"}]},"mark":{"type":"text","align":"left","baseline":"alphabetic","angle":270,"fontSize":31,"font":"DejaVu Sans","color":"black","clip":false},"encoding":{"x":{"field":"t","type":"quantitative","axis":null},"y":{"field":"T","type":"quantitative","axis":null},"text":{"field":"s"}}}
]},
{"width":253,"height":594,
"resolve":{"axis":{"x":"independent","y":"independent"}},
"layer":[
{"data":{"name":"profiles"},"mark":{"type":"line","strokeWidth":3.5,"clip":true},"encoding":{
"x":{"field":"M","type":"quantitative","scale":{"domain":[4.9,12.06],"nice":false,"zero":false},"axis":{"values":[6,8,10,12],"tickSize":-8,"labelPadding":17.5,"labelExpr":"'10'+{'6':'⁶','8':'⁸','10':'¹⁰','12':'¹²'}[datum.value]"}},
"y":{"field":"T","type":"quantitative","scale":{"domain":[3,7],"nice":false,"zero":false},"axis":{"values":[3,4,5,6,7],"labels":false,"tickSize":-9}},
"order":{"field":"T","sort":"descending"},
"stroke":{"field":"s","type":"nominal","legend":null}}},
{"data":{"name":"frame"},"mark":{"type":"point","opacity":0},"encoding":{
"x":{"field":"M","type":"quantitative","axis":{"orient":"top","values":[6,8,10,12],"labels":false,"tickSize":-8}},
"y":{"field":"T","type":"quantitative","axis":{"orient":"right","values":[3,4,5,6,7],"labels":false,"tickSize":-9}}}},
{"data":{"name":"frame"},"mark":{"type":"point","opacity":0},"encoding":{
"x":{"field":"M","type":"quantitative","axis":null},
"y":{"field":"T","type":"quantitative","axis":{"orient":"left","domain":false,"labels":false,"tickSize":-5,"values":[3.301,3.477,3.602,3.699,3.778,3.845,3.903,3.954,4.301,4.477,4.602,4.699,4.778,4.845,4.903,4.954,5.301,5.477,5.602,5.699,5.778,5.845,5.903,5.954,6.301,6.477,6.602,6.699,6.778,6.845,6.903,6.954]}}}},
{"data":{"name":"frame"},"mark":{"type":"point","opacity":0},"encoding":{
"x":{"field":"M","type":"quantitative","axis":null},
"y":{"field":"T","type":"quantitative","axis":{"orient":"right","domain":false,"labels":false,"tickSize":-5,"values":[3.301,3.477,3.602,3.699,3.778,3.845,3.903,3.954,4.301,4.477,4.602,4.699,4.778,4.845,4.903,4.954,5.301,5.477,5.602,5.699,5.778,5.845,5.903,5.954,6.301,6.477,6.602,6.699,6.778,6.845,6.903,6.954]}}}}
]}
]}
]}
